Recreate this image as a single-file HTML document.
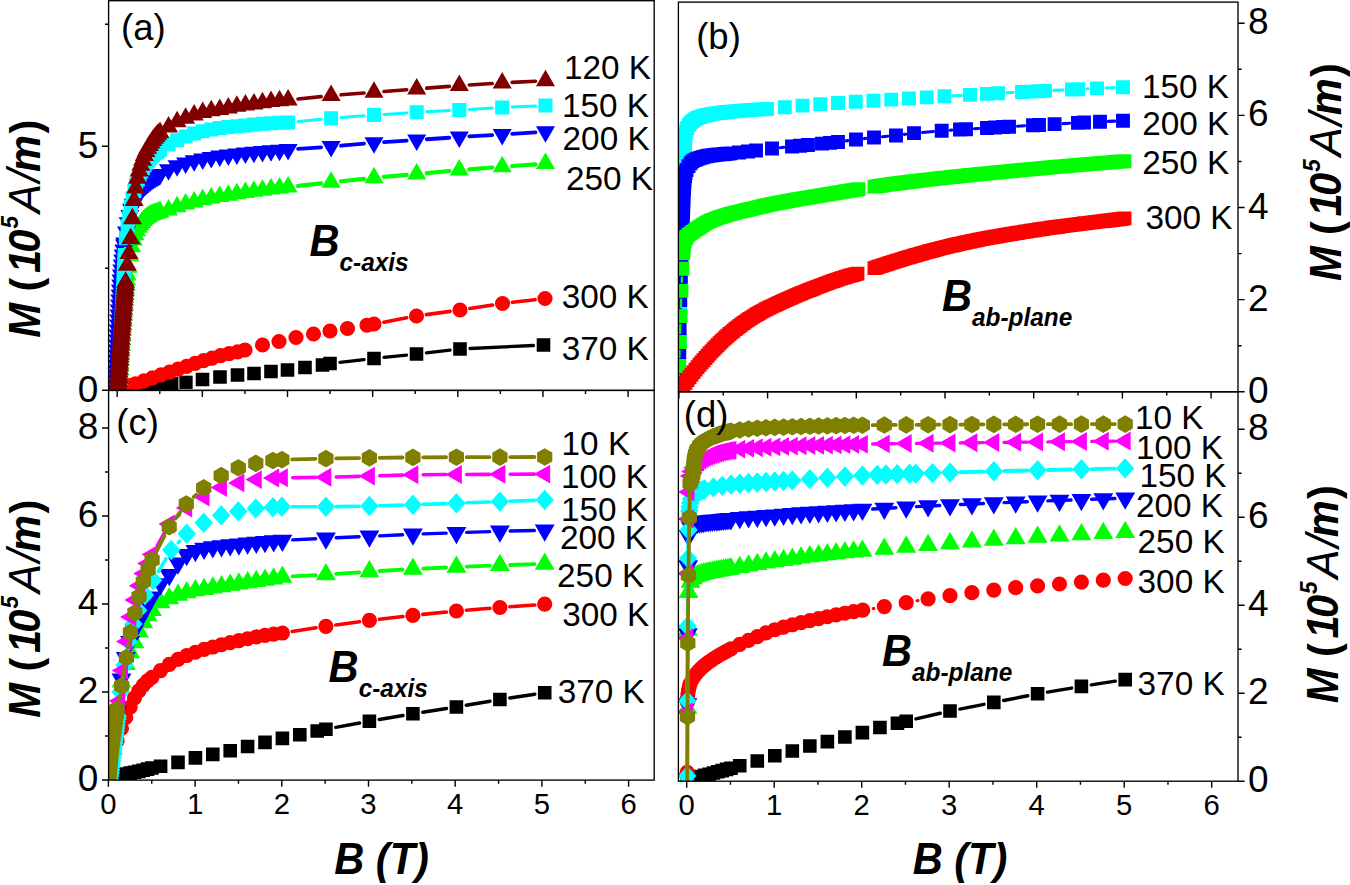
<!DOCTYPE html>
<html lang="en"><head><meta charset="utf-8"><title>M(B) curves</title>
<style>html,body{margin:0;padding:0;background:#fff}body{width:1350px;height:885px;overflow:hidden}svg{display:block}text{font-family:'Liberation Sans', Arial, Helvetica, sans-serif;fill:#000}</style>
</head><body>
<svg width="1350" height="885" viewBox="0 0 1350 885">
<rect width="1350" height="885" fill="#fff"/>
<defs>
<clipPath id="cpa"><rect x="108.6" y="0.7" width="545.6" height="389.7"/></clipPath>
<clipPath id="cpb"><rect x="678.4" y="2.1" width="559.6" height="389.7"/></clipPath>
<clipPath id="cpc"><rect x="108.6" y="390.4" width="545.6" height="389.7"/></clipPath>
<clipPath id="cpd"><rect x="678.4" y="391.8" width="559.6" height="389.4"/></clipPath>
</defs>
<g clip-path="url(#cpa)">
<path d="M339.94 362.37L364.06 359.63M383.94 357.45L406.56 355.05M426.43 352.86L450.07 350.14M469.99 348.52L533.51 345.48" fill="none" stroke="#000000" stroke-width="3.3" stroke-linecap="round"/>
<path d="M131.2 384.56h13.6v13.6h-13.6zM135.46 383.27h13.6v13.6h-13.6zM139.72 382.08h13.6v13.6h-13.6zM143.98 381.02h13.6v13.6h-13.6zM148.24 380.04h13.6v13.6h-13.6zM152.5 379.13h13.6v13.6h-13.6zM156.76 378.29h13.6v13.6h-13.6zM161.02 377.55h13.6v13.6h-13.6zM165.28 376.9h13.6v13.6h-13.6zM179.2 375.2h13.6v13.6h-13.6zM195.7 372.7h13.6v13.6h-13.6zM213.2 370.2h13.6v13.6h-13.6zM230.7 368.2h13.6v13.6h-13.6zM247.2 366.7h13.6v13.6h-13.6zM264.2 364.7h13.6v13.6h-13.6zM280.7 363.2h13.6v13.6h-13.6zM298.2 360.7h13.6v13.6h-13.6zM315.7 358.2h13.6v13.6h-13.6zM323.2 356.7h13.6v13.6h-13.6zM367.2 351.7h13.6v13.6h-13.6zM409.7 347.2h13.6v13.6h-13.6zM453.2 342.2h13.6v13.6h-13.6zM536.7 338.2h13.6v13.6h-13.6z" fill="#000000"/>
<rect x="178.9" y="375.2" width="14.2" height="14.2" fill="#000" stroke="#fff" stroke-width="0.9"/>
<path d="M383.83 322.15L406.67 317.85M426.41 314.63L450.09 311.37M469.89 308.49L492.61 305.01M512.43 302.33L535.07 299.67" fill="none" stroke="#ff0000" stroke-width="3.6" stroke-linecap="round"/>
<path d="M119.4 387.09a7.6 7.6 0 1 0 15.2 0a7.6 7.6 0 1 0 -15.2 0zM123.6 385.42a7.6 7.6 0 1 0 15.2 0a7.6 7.6 0 1 0 -15.2 0zM127.9 383.84a7.6 7.6 0 1 0 15.2 0a7.6 7.6 0 1 0 -15.2 0zM136.41 380.87a7.6 7.6 0 1 0 15.2 0a7.6 7.6 0 1 0 -15.2 0zM144.93 377.93a7.6 7.6 0 1 0 15.2 0a7.6 7.6 0 1 0 -15.2 0zM153.45 374.97a7.6 7.6 0 1 0 15.2 0a7.6 7.6 0 1 0 -15.2 0zM161.96 372.03a7.6 7.6 0 1 0 15.2 0a7.6 7.6 0 1 0 -15.2 0zM170.47 369.14a7.6 7.6 0 1 0 15.2 0a7.6 7.6 0 1 0 -15.2 0zM178.99 366.31a7.6 7.6 0 1 0 15.2 0a7.6 7.6 0 1 0 -15.2 0zM187.51 363.46a7.6 7.6 0 1 0 15.2 0a7.6 7.6 0 1 0 -15.2 0zM196.02 360.66a7.6 7.6 0 1 0 15.2 0a7.6 7.6 0 1 0 -15.2 0zM204.53 358.03a7.6 7.6 0 1 0 15.2 0a7.6 7.6 0 1 0 -15.2 0zM213.05 355.7a7.6 7.6 0 1 0 15.2 0a7.6 7.6 0 1 0 -15.2 0zM221.57 353.7a7.6 7.6 0 1 0 15.2 0a7.6 7.6 0 1 0 -15.2 0zM230.08 351.78a7.6 7.6 0 1 0 15.2 0a7.6 7.6 0 1 0 -15.2 0zM237.4 350a7.6 7.6 0 1 0 15.2 0a7.6 7.6 0 1 0 -15.2 0zM254.9 345a7.6 7.6 0 1 0 15.2 0a7.6 7.6 0 1 0 -15.2 0zM271.4 341.5a7.6 7.6 0 1 0 15.2 0a7.6 7.6 0 1 0 -15.2 0zM288.4 337.5a7.6 7.6 0 1 0 15.2 0a7.6 7.6 0 1 0 -15.2 0zM305.9 334a7.6 7.6 0 1 0 15.2 0a7.6 7.6 0 1 0 -15.2 0zM322.4 331a7.6 7.6 0 1 0 15.2 0a7.6 7.6 0 1 0 -15.2 0zM339.9 328.5a7.6 7.6 0 1 0 15.2 0a7.6 7.6 0 1 0 -15.2 0zM359.4 325.24a7.6 7.6 0 1 0 15.2 0a7.6 7.6 0 1 0 -15.2 0zM366.4 324a7.6 7.6 0 1 0 15.2 0a7.6 7.6 0 1 0 -15.2 0zM408.9 316a7.6 7.6 0 1 0 15.2 0a7.6 7.6 0 1 0 -15.2 0zM452.4 310a7.6 7.6 0 1 0 15.2 0a7.6 7.6 0 1 0 -15.2 0zM494.9 303.5a7.6 7.6 0 1 0 15.2 0a7.6 7.6 0 1 0 -15.2 0zM537.4 298.5a7.6 7.6 0 1 0 15.2 0a7.6 7.6 0 1 0 -15.2 0z" fill="#ff0000"/>
<path d="M298.04 185.95L321.16 183.4M341.05 181.26L364.05 178.84M383.96 176.94L406.74 174.96M426.66 173.17L449.34 171.03M469.27 169.31L492.23 167.49M512.17 165.99L535.53 164.31" fill="none" stroke="#00ff00" stroke-width="4.2" stroke-linecap="round"/>
<path d="M118.71 379L128.24 395.5L109.18 395.5zM118.99 374L128.51 390.5L109.46 390.5zM119.27 369L128.8 385.5L109.75 385.5zM119.57 364L129.09 380.5L110.04 380.5zM119.87 359L129.39 375.5L110.34 375.5zM120.18 354L129.7 370.5L110.65 370.5zM120.49 349L130.02 365.5L110.96 365.5zM120.81 344L130.34 360.5L111.28 360.5zM121.14 339L130.66 355.5L111.61 355.5zM121.47 334L131 350.5L111.94 350.5zM121.81 329L131.34 345.5L112.28 345.5zM122.15 324L131.68 340.5L112.63 340.5zM122.5 319L132.03 335.5L112.97 335.5zM122.85 314L132.38 330.5L113.32 330.5zM123.2 309L132.73 325.5L113.67 325.5zM123.56 304L133.09 320.5L114.03 320.5zM123.93 299L133.45 315.5L114.4 315.5zM124.31 294L133.84 310.5L114.79 310.5zM124.72 289L134.24 305.5L115.19 305.5zM125.14 284L134.67 300.5L115.62 300.5zM125.6 279L135.13 295.5L116.07 295.5zM126.09 274L135.62 290.5L116.56 290.5zM126.62 269L136.15 285.5L117.1 285.5zM127.2 264L136.73 280.5L117.67 280.5zM128.2 256.17L137.73 272.67L118.67 272.67zM129.9 244.72L139.43 261.22L120.37 261.22zM131.6 235.77L141.13 252.27L122.07 252.27zM133.3 229.04L142.83 245.54L123.77 245.54zM135 223.85L144.53 240.35L125.47 240.35zM136.7 219.66L146.23 236.16L127.17 236.16zM138.4 216.31L147.93 232.81L128.87 232.81zM140.1 213.63L149.63 230.13L130.57 230.13zM141.8 211.38L151.33 227.88L132.27 227.88zM143.5 209.47L153.03 225.97L133.97 225.97zM145.2 207.86L154.73 224.36L135.67 224.36zM146.9 206.48L156.43 222.98L137.37 222.98zM148.6 205.31L158.13 221.81L139.07 221.81zM150.3 204.34L159.83 220.84L140.77 220.84zM152 203.53L161.53 220.03L142.47 220.03zM153.7 202.83L163.23 219.33L144.17 219.33zM155.4 202.2L164.93 218.7L145.87 218.7zM157.1 201.63L166.63 218.13L147.57 218.13zM158.8 201.13L168.33 217.63L149.27 217.63zM160 200.8L169.53 217.3L150.47 217.3zM168.54 199.07L178.07 215.57L159.01 215.57zM177.08 195.84L186.61 212.34L167.55 212.34zM185.62 193.12L195.15 209.62L176.09 209.62zM194.16 191.01L203.69 207.51L184.63 207.51zM202.7 188.72L212.23 205.22L193.17 205.22zM211.24 187.11L220.77 203.61L201.71 203.61zM219.78 185.52L229.31 202.02L210.25 202.02zM228.32 184.21L237.85 200.71L218.79 200.71zM236.86 182.72L246.39 199.22L227.33 199.22zM245.4 181.61L254.93 198.11L235.87 198.11zM253.94 180.31L263.47 196.81L244.41 196.81zM262.48 179.22L272.01 195.72L252.95 195.72zM271.02 178.11L280.55 194.61L261.49 194.61zM279.56 177.12L289.09 193.62L270.03 193.62zM288.1 176.05L297.63 192.55L278.57 192.55zM331.1 171.3L340.63 187.8L321.57 187.8zM374 166.8L383.53 183.3L364.47 183.3zM416.7 163.1L426.23 179.6L407.17 179.6zM459.3 159.1L468.83 175.6L449.77 175.6zM502.2 155.7L511.73 172.2L492.67 172.2zM545.5 152.6L555.03 169.1L535.97 169.1z" fill="#00ff00"/>
<path d="M298.08 148.91L321.12 147.3M341.06 145.72L364.04 143.68M383.98 142.12L406.72 140.58M426.68 139.24L449.32 137.76M469.28 136.47L492.22 135.03M512.18 133.8L535.52 132.4" fill="none" stroke="#0000ff" stroke-width="3.8" stroke-linecap="round"/>
<path d="M116.23 401L106.71 384.5L125.76 384.5zM116.33 396L106.81 379.5L125.86 379.5zM116.45 391L106.92 374.5L125.97 374.5zM116.58 386L107.05 369.5L126.1 369.5zM116.72 381L107.19 364.5L126.25 364.5zM116.88 376L107.35 359.5L126.4 359.5zM117.05 371L107.52 354.5L126.57 354.5zM117.23 366L107.7 349.5L126.76 349.5zM117.42 361L107.9 344.5L126.95 344.5zM117.63 356L108.1 339.5L127.15 339.5zM117.84 351L108.32 334.5L127.37 334.5zM118.06 346L108.54 329.5L127.59 329.5zM118.29 341L108.77 324.5L127.82 324.5zM118.53 336L109.01 319.5L128.06 319.5zM118.78 331L109.25 314.5L128.3 314.5zM119.03 326L109.5 309.5L128.55 309.5zM119.28 321L109.75 304.5L128.81 304.5zM119.54 316L110.01 299.5L129.06 299.5zM119.8 311L110.27 294.5L129.33 294.5zM120.07 306L110.55 289.5L129.6 289.5zM120.37 301L110.84 284.5L129.89 284.5zM120.68 296L111.16 279.5L130.21 279.5zM121.03 291L111.5 274.5L130.55 274.5zM121.4 286L111.87 269.5L130.92 269.5zM121.8 281L112.27 264.5L131.32 264.5zM122.23 276L112.7 259.5L131.75 259.5zM122.69 271L113.17 254.5L132.22 254.5zM123.23 266L113.7 249.5L132.75 249.5zM123.83 261L114.31 244.5L133.36 244.5zM124.5 256L114.98 239.5L134.03 239.5zM124.8 253.9L115.27 237.4L134.33 237.4zM126.5 242.95L116.97 226.45L136.03 226.45zM128.2 233.85L118.67 217.35L137.73 217.35zM129.9 226.4L120.37 209.9L139.43 209.9zM131.6 220.26L122.07 203.76L141.13 203.76zM133.3 215.21L123.77 198.71L142.83 198.71zM135 211L125.47 194.5L144.53 194.5zM136.7 207.57L127.17 191.07L146.23 191.07zM138.4 204.71L128.87 188.21L147.93 188.21zM140.1 202.21L130.57 185.71L149.63 185.71zM141.8 199.99L132.27 183.49L151.33 183.49zM143.5 198.03L133.97 181.53L153.03 181.53zM145.2 196.26L135.67 179.76L154.73 179.76zM146.9 194.64L137.37 178.14L156.43 178.14zM148.6 193.15L139.07 176.65L158.13 176.65zM150.3 191.76L140.77 175.26L159.83 175.26zM152 190.49L142.47 173.99L161.53 173.99zM153.7 189.33L144.17 172.83L163.23 172.83zM155.4 188.23L145.87 171.73L164.93 171.73zM157.1 187.19L147.57 170.69L166.63 170.69zM158.8 186.19L149.27 169.69L168.33 169.69zM160 185.51L150.47 169.01L169.53 169.01zM168.54 180.8L159.01 164.3L178.07 164.3zM177.08 176.86L167.55 160.36L186.61 160.36zM185.62 173.96L176.09 157.46L195.15 157.46zM194.16 171.7L184.63 155.2L203.69 155.2zM202.7 169.93L193.17 153.43L212.23 153.43zM211.24 168.44L201.71 151.94L220.77 151.94zM219.78 167.11L210.25 150.61L229.31 150.61zM228.32 165.96L218.79 149.46L237.85 149.46zM236.86 164.94L227.33 148.44L246.39 148.44zM245.4 164L235.87 147.5L254.93 147.5zM253.94 163.14L244.41 146.64L263.47 146.64zM262.48 162.42L252.95 145.92L272.01 145.92zM271.02 161.8L261.49 145.3L280.55 145.3zM279.56 161.2L270.03 144.7L289.09 144.7zM288.1 160.61L278.57 144.11L297.63 144.11zM331.1 157.6L321.57 141.1L340.63 141.1zM374 153.8L364.47 137.3L383.53 137.3zM416.7 150.9L407.17 134.4L426.23 134.4zM459.3 148.1L449.77 131.6L468.83 131.6zM502.2 145.4L492.67 128.9L511.73 128.9zM545.5 142.8L535.97 126.3L555.03 126.3z" fill="#0000ff"/>
<path d="M124.86 253.98L125.24 248.25M298.05 121.43L321.15 119.17M341.07 117.48L364.03 115.82M383.98 114.42L406.72 112.88M426.69 111.68L449.31 110.52M469.28 109.42L492.22 108.08M512.19 107.02L535.51 105.88" fill="none" stroke="#00ffff" stroke-width="3" stroke-linecap="round"/>
<path d="M111.09 383h14v14h-14zM111.32 378h14v14h-14zM111.56 373h14v14h-14zM111.79 368h14v14h-14zM112.03 363h14v14h-14zM112.27 358h14v14h-14zM112.5 353h14v14h-14zM112.75 348h14v14h-14zM112.99 343h14v14h-14zM113.23 338h14v14h-14zM113.48 333h14v14h-14zM113.72 328h14v14h-14zM113.97 323h14v14h-14zM114.22 318h14v14h-14zM114.47 313h14v14h-14zM114.73 308h14v14h-14zM114.98 303h14v14h-14zM115.23 298h14v14h-14zM115.49 293h14v14h-14zM115.74 288h14v14h-14zM116 283h14v14h-14zM116.25 278h14v14h-14zM116.48 273h14v14h-14zM116.7 268h14v14h-14zM116.92 263h14v14h-14zM117.15 258h14v14h-14zM117.4 253h14v14h-14zM117.67 248h14v14h-14zM117.2 256.96h14v14h-14zM118.9 231.27h14v14h-14zM120.6 218.76h14v14h-14zM122.3 209.03h14v14h-14zM124 199.85h14v14h-14zM125.7 191.27h14v14h-14zM127.4 183.88h14v14h-14zM129.1 177.66h14v14h-14zM130.8 172.6h14v14h-14zM132.5 168.34h14v14h-14zM134.2 164.61h14v14h-14zM135.9 161.29h14v14h-14zM137.6 158.34h14v14h-14zM139.3 155.71h14v14h-14zM141 153.38h14v14h-14zM142.7 151.33h14v14h-14zM144.4 149.56h14v14h-14zM146.1 148.01h14v14h-14zM147.8 146.61h14v14h-14zM149.5 145.32h14v14h-14zM151.2 144.1h14v14h-14zM153 142.86h14v14h-14zM161.54 137.62h14v14h-14zM170.08 133.3h14v14h-14zM178.62 129.56h14v14h-14zM187.16 126.54h14v14h-14zM195.7 124.19h14v14h-14zM204.24 122.4h14v14h-14zM212.78 121.05h14v14h-14zM221.32 120.03h14v14h-14zM229.86 119.26h14v14h-14zM238.4 118.42h14v14h-14zM246.94 117.54h14v14h-14zM255.48 116.85h14v14h-14zM264.02 116.28h14v14h-14zM272.56 115.84h14v14h-14zM281.1 115.41h14v14h-14zM324.1 111.2h14v14h-14zM367 108.1h14v14h-14zM409.7 105.2h14v14h-14zM452.3 103h14v14h-14zM495.2 100.5h14v14h-14zM538.5 98.4h14v14h-14z" fill="#00ffff"/>
<path d="M298.05 99.01L321.15 96.63M341.07 94.83L364.03 93.07M383.97 91.51L406.73 89.69M426.67 88.13L449.33 86.37M469.28 84.97L492.22 83.53M512.19 82.39L535.51 81.21" fill="none" stroke="#800000" stroke-width="3.6" stroke-linecap="round"/>
<path d="M118.19 379L127.72 395.5L108.67 395.5zM118.33 376L127.86 392.5L108.81 392.5zM118.48 373L128.01 389.5L108.96 389.5zM118.63 370L128.16 386.5L109.11 386.5zM118.79 367L128.32 383.5L109.26 383.5zM118.95 364L128.48 380.5L109.43 380.5zM119.12 361L128.64 377.5L109.59 377.5zM119.29 358L128.81 374.5L109.76 374.5zM119.46 355L128.99 371.5L109.94 371.5zM119.64 352L129.17 368.5L110.12 368.5zM119.82 349L129.35 365.5L110.3 365.5zM120.01 346L129.54 362.5L110.48 362.5zM120.2 343L129.73 359.5L110.68 359.5zM120.4 340L129.92 356.5L110.87 356.5zM120.59 337L130.12 353.5L111.07 353.5zM120.79 334L130.32 350.5L111.27 350.5zM121 331L130.52 347.5L111.47 347.5zM121.21 328L130.73 344.5L111.68 344.5zM121.42 325L130.94 341.5L111.89 341.5zM121.63 322L131.16 338.5L112.1 338.5zM121.85 319L131.37 335.5L112.32 335.5zM122.07 316L131.59 332.5L112.54 332.5zM122.29 313L131.81 329.5L112.76 329.5zM122.51 310L132.04 326.5L112.98 326.5zM122.74 307L132.26 323.5L113.21 323.5zM122.97 304L132.49 320.5L113.44 320.5zM123.2 301L132.72 317.5L113.67 317.5zM123.43 298L132.96 314.5L113.9 314.5zM123.66 295L133.19 311.5L114.14 311.5zM123.9 292L133.43 308.5L114.37 308.5zM124.14 289L133.66 305.5L114.61 305.5zM124.38 286L133.9 302.5L114.85 302.5zM124.62 283L134.14 299.5L115.09 299.5zM124.86 280L134.39 296.5L115.33 296.5zM125.1 277L134.63 293.5L115.58 293.5zM125.35 274L134.88 290.5L115.83 290.5zM125.6 271.16L135.13 287.66L116.07 287.66zM127.3 254.33L136.83 270.83L117.77 270.83zM129 242.45L138.53 258.95L119.47 258.95zM130.7 227.78L140.23 244.28L121.17 244.28zM132.4 207.7L141.93 224.2L122.87 224.2zM134.1 189.5L143.63 206L124.57 206zM135.8 177.02L145.33 193.52L126.27 193.52zM137.5 167.36L147.03 183.86L127.97 183.86zM139.2 160.12L148.73 176.62L129.67 176.62zM140.9 154.32L150.43 170.82L131.37 170.82zM142.6 149.19L152.13 165.69L133.07 165.69zM144.3 144.56L153.83 161.06L134.77 161.06zM146 140.56L155.53 157.06L136.47 157.06zM147.7 137.2L157.23 153.7L138.17 153.7zM149.4 134.42L158.93 150.92L139.87 150.92zM151.1 131.94L160.63 148.44L141.57 148.44zM152.8 129.61L162.33 146.11L143.27 146.11zM154.5 127.36L164.03 143.86L144.97 143.86zM156.2 125.26L165.73 141.76L146.67 141.76zM157.9 123.37L167.43 139.87L148.37 139.87zM160 121.4L169.53 137.9L150.47 137.9zM168.54 116.06L178.07 132.56L159.01 132.56zM177.08 110.86L186.61 127.36L167.55 127.36zM185.62 107.23L195.15 123.73L176.09 123.73zM194.16 104.01L203.69 120.51L184.63 120.51zM202.7 101.62L212.23 118.12L193.17 118.12zM211.24 99.71L220.77 116.21L201.71 116.21zM219.78 98.52L229.31 115.02L210.25 115.02zM228.32 96.92L237.85 113.42L218.79 113.42zM236.86 95.32L246.39 111.82L227.33 111.82zM245.4 94.01L254.93 110.51L235.87 110.51zM253.94 92.91L263.47 109.41L244.41 109.41zM262.48 91.82L272.01 108.32L252.95 108.32zM271.02 90.61L280.55 107.11L261.49 107.11zM279.56 89.81L289.09 106.31L270.03 106.31zM288.1 89.04L297.63 105.54L278.57 105.54zM331.1 84.6L340.63 101.1L321.57 101.1zM374 81.3L383.53 97.8L364.47 97.8zM416.7 77.9L426.23 94.4L407.17 94.4zM459.3 74.6L468.83 91.1L449.77 91.1zM502.2 71.9L511.73 88.4L492.67 88.4zM545.5 69.7L555.03 86.2L535.97 86.2z" fill="#800000"/>
</g>
<g clip-path="url(#cpb)">
<path d="M679.33 363.1L679.53 348.9M679.83 331.1L680.1 316.9M680.48 299.1L680.81 284.9M681.25 267.1L681.62 252.9M682.12 235.1L682.77 212.9M683.31 195.1L684 172.9M953.35 95.81L961.11 95.36M1006.89 92.82L1013.11 92.49M1053.89 90.42L1063.11 89.96M1086.89 88.83L1088.11 88.77M1105.89 87.96L1114.11 87.6" fill="none" stroke="#00ffff" stroke-width="3.1" stroke-linecap="round"/>
<path d="M672.25 365.05h13.9v13.9h-13.9zM672.71 333.05h13.9v13.9h-13.9zM673.32 301.05h13.9v13.9h-13.9zM674.06 269.05h13.9v13.9h-13.9zM674.91 237.05h13.9v13.9h-13.9zM676.08 197.05h13.9v13.9h-13.9zM677.32 157.05h13.9v13.9h-13.9zM677.42 154.05h13.9v13.9h-13.9zM677.51 151.05h13.9v13.9h-13.9zM677.61 148.05h13.9v13.9h-13.9zM677.7 145.05h13.9v13.9h-13.9zM677.81 142.05h13.9v13.9h-13.9zM677.93 139.05h13.9v13.9h-13.9zM678.08 136.05h13.9v13.9h-13.9zM678.25 133.05h13.9v13.9h-13.9zM678.47 130.05h13.9v13.9h-13.9zM678.79 127.05h13.9v13.9h-13.9zM679.25 124.05h13.9v13.9h-13.9zM680.23 121.05h13.9v13.9h-13.9zM680.05 121.47h13.9v13.9h-13.9zM682.05 117.79h13.9v13.9h-13.9zM684.05 115.47h13.9v13.9h-13.9zM686.05 113.75h13.9v13.9h-13.9zM688.05 112.4h13.9v13.9h-13.9zM690.05 111.3h13.9v13.9h-13.9zM692.05 110.41h13.9v13.9h-13.9zM694.05 109.73h13.9v13.9h-13.9zM696.05 109.14h13.9v13.9h-13.9zM698.05 108.61h13.9v13.9h-13.9zM700.05 108.14h13.9v13.9h-13.9zM702.05 107.71h13.9v13.9h-13.9zM704.05 107.33h13.9v13.9h-13.9zM706.05 106.97h13.9v13.9h-13.9zM708.05 106.65h13.9v13.9h-13.9zM710.05 106.35h13.9v13.9h-13.9zM712.05 106.07h13.9v13.9h-13.9zM714.05 105.81h13.9v13.9h-13.9zM716.05 105.56h13.9v13.9h-13.9zM718.05 105.32h13.9v13.9h-13.9zM720.05 105.1h13.9v13.9h-13.9zM722.05 104.89h13.9v13.9h-13.9zM724.05 104.69h13.9v13.9h-13.9zM726.05 104.5h13.9v13.9h-13.9zM728.05 104.32h13.9v13.9h-13.9zM730.05 104.14h13.9v13.9h-13.9zM732.05 103.97h13.9v13.9h-13.9zM734.05 103.8h13.9v13.9h-13.9zM736.05 103.63h13.9v13.9h-13.9zM738.05 103.47h13.9v13.9h-13.9zM740.05 103.32h13.9v13.9h-13.9zM742.05 103.18h13.9v13.9h-13.9zM744.05 103.05h13.9v13.9h-13.9zM746.05 102.92h13.9v13.9h-13.9zM748.05 102.8h13.9v13.9h-13.9zM750.05 102.68h13.9v13.9h-13.9zM752.05 102.57h13.9v13.9h-13.9zM754.05 102.45h13.9v13.9h-13.9zM756.05 102.33h13.9v13.9h-13.9zM758.05 102.2h13.9v13.9h-13.9zM760.05 102.07h13.9v13.9h-13.9zM777.85 100.25h13.9v13.9h-13.9zM795.59 98.68h13.9v13.9h-13.9zM813.33 97.27h13.9v13.9h-13.9zM831.07 96.01h13.9v13.9h-13.9zM848.81 94.84h13.9v13.9h-13.9zM866.55 93.73h13.9v13.9h-13.9zM884.29 92.65h13.9v13.9h-13.9zM902.03 91.54h13.9v13.9h-13.9zM919.77 90.44h13.9v13.9h-13.9zM937.51 89.37h13.9v13.9h-13.9zM963.05 87.89h13.9v13.9h-13.9zM980.05 86.94h13.9v13.9h-13.9zM991.05 86.34h13.9v13.9h-13.9zM1015.05 85.08h13.9v13.9h-13.9zM1023.05 84.66h13.9v13.9h-13.9zM1031.05 84.25h13.9v13.9h-13.9zM1038.05 83.9h13.9v13.9h-13.9zM1065.05 82.58h13.9v13.9h-13.9zM1071.05 82.29h13.9v13.9h-13.9zM1090.05 81.41h13.9v13.9h-13.9zM1116.05 80.25h13.9v13.9h-13.9z" fill="#00ffff"/>
<path d="M679.11 369.7L679.19 360.3M679.39 343.7L679.48 337.3M679.79 320.7L680.06 308.3M680.46 291.7L680.55 288.3M681.02 271.7L681.28 263.3M780.26 147.67L783.74 147.33M846.22 140.86L847.78 140.64M864.25 138.57L865.75 138.4M882.26 136.7L887.74 136.19M904.23 134.38L905.77 134.19M922.27 132.44L933.43 131.5M949.98 130.24L951.72 130.12M974.29 128.71L978.71 128.45M1017.29 126.22L1024.71 125.78M1062.89 123.66L1069.71 123.3M1108.29 121.38L1114.71 121.08" fill="none" stroke="#0000ff" stroke-width="3.1" stroke-linecap="round"/>
<path d="M672.09 371.05h13.9v13.9h-13.9zM672.31 345.05h13.9v13.9h-13.9zM672.66 322.05h13.9v13.9h-13.9zM673.29 293.05h13.9v13.9h-13.9zM673.82 273.05h13.9v13.9h-13.9zM674.58 248.05h13.9v13.9h-13.9zM675.16 231.05h13.9v13.9h-13.9zM675.55 220.05h13.9v13.9h-13.9zM675.66 217.05h13.9v13.9h-13.9zM675.77 214.05h13.9v13.9h-13.9zM675.88 211.05h13.9v13.9h-13.9zM675.99 208.05h13.9v13.9h-13.9zM676.1 205.05h13.9v13.9h-13.9zM676.21 202.05h13.9v13.9h-13.9zM676.33 199.05h13.9v13.9h-13.9zM676.44 196.05h13.9v13.9h-13.9zM676.56 193.05h13.9v13.9h-13.9zM676.67 190.05h13.9v13.9h-13.9zM676.79 187.05h13.9v13.9h-13.9zM676.92 184.05h13.9v13.9h-13.9zM677.08 181.05h13.9v13.9h-13.9zM677.26 178.05h13.9v13.9h-13.9zM677.48 175.05h13.9v13.9h-13.9zM677.75 172.05h13.9v13.9h-13.9zM678.11 169.05h13.9v13.9h-13.9zM678.63 166.05h13.9v13.9h-13.9zM679.52 163.05h13.9v13.9h-13.9zM679.55 162.97h13.9v13.9h-13.9zM681.55 159.22h13.9v13.9h-13.9zM683.55 156.42h13.9v13.9h-13.9zM685.55 154.42h13.9v13.9h-13.9zM687.55 153.17h13.9v13.9h-13.9zM689.55 152.28h13.9v13.9h-13.9zM691.55 151.55h13.9v13.9h-13.9zM693.55 150.89h13.9v13.9h-13.9zM695.55 150.27h13.9v13.9h-13.9zM697.55 149.71h13.9v13.9h-13.9zM699.55 149.24h13.9v13.9h-13.9zM701.55 148.87h13.9v13.9h-13.9zM703.55 148.56h13.9v13.9h-13.9zM705.55 148.29h13.9v13.9h-13.9zM707.55 148.04h13.9v13.9h-13.9zM709.55 147.82h13.9v13.9h-13.9zM711.55 147.61h13.9v13.9h-13.9zM713.55 147.42h13.9v13.9h-13.9zM715.55 147.23h13.9v13.9h-13.9zM717.55 147.04h13.9v13.9h-13.9zM719.55 146.84h13.9v13.9h-13.9zM721.55 146.64h13.9v13.9h-13.9zM723.55 146.42h13.9v13.9h-13.9zM732.05 145.51h13.9v13.9h-13.9zM741.05 144.53h13.9v13.9h-13.9zM749.05 143.53h13.9v13.9h-13.9zM765.05 141.54h13.9v13.9h-13.9zM785.05 139.56h13.9v13.9h-13.9zM793.05 138.82h13.9v13.9h-13.9zM801.05 138.05h13.9v13.9h-13.9zM815.05 136.72h13.9v13.9h-13.9zM823.05 135.93h13.9v13.9h-13.9zM831.05 135.05h13.9v13.9h-13.9zM849.05 132.55h13.9v13.9h-13.9zM867.05 130.52h13.9v13.9h-13.9zM889.05 128.48h13.9v13.9h-13.9zM907.05 126.19h13.9v13.9h-13.9zM934.75 123.85h13.9v13.9h-13.9zM953.05 122.61h13.9v13.9h-13.9zM959.05 122.24h13.9v13.9h-13.9zM980.05 121.02h13.9v13.9h-13.9zM988.05 120.56h13.9v13.9h-13.9zM996.05 120.1h13.9v13.9h-13.9zM1002.05 119.75h13.9v13.9h-13.9zM1026.05 118.35h13.9v13.9h-13.9zM1032.05 118.01h13.9v13.9h-13.9zM1047.65 117.15h13.9v13.9h-13.9zM1071.05 115.91h13.9v13.9h-13.9zM1077.05 115.6h13.9v13.9h-13.9zM1093.05 114.82h13.9v13.9h-13.9zM1116.05 113.75h13.9v13.9h-13.9z" fill="#0000ff"/>
<path d="M679.09 379L679.12 375M679.39 357L679.51 351M679.97 333L680.21 325M680.83 307.01L681.11 299.69M681.84 281.71L682.01 277.79" fill="none" stroke="#00ff00" stroke-width="2.4" stroke-linecap="round"/>
<path d="M672.06 381.05h13.9v13.9h-13.9zM672.26 359.05h13.9v13.9h-13.9zM672.75 335.05h13.9v13.9h-13.9zM673.54 309.05h13.9v13.9h-13.9zM674.5 283.75h13.9v13.9h-13.9zM675.44 261.85h13.9v13.9h-13.9zM676.31 246.05h13.9v13.9h-13.9zM676.56 243.05h13.9v13.9h-13.9zM676.84 240.05h13.9v13.9h-13.9zM677.2 237.05h13.9v13.9h-13.9zM677.79 234.05h13.9v13.9h-13.9zM678.98 231.05h13.9v13.9h-13.9zM679.55 230.05h13.9v13.9h-13.9zM681.55 227.96h13.9v13.9h-13.9zM683.55 226.43h13.9v13.9h-13.9zM685.55 224.93h13.9v13.9h-13.9zM687.55 223.55h13.9v13.9h-13.9zM689.55 222.22h13.9v13.9h-13.9zM691.55 220.85h13.9v13.9h-13.9zM693.55 219.48h13.9v13.9h-13.9zM695.55 218.14h13.9v13.9h-13.9zM697.55 216.88h13.9v13.9h-13.9zM699.55 215.72h13.9v13.9h-13.9zM701.55 214.69h13.9v13.9h-13.9zM703.55 213.79h13.9v13.9h-13.9zM705.55 212.94h13.9v13.9h-13.9zM707.55 212.15h13.9v13.9h-13.9zM709.55 211.41h13.9v13.9h-13.9zM711.55 210.7h13.9v13.9h-13.9zM713.55 210.03h13.9v13.9h-13.9zM715.55 209.38h13.9v13.9h-13.9zM717.55 208.76h13.9v13.9h-13.9zM719.55 208.16h13.9v13.9h-13.9zM721.55 207.57h13.9v13.9h-13.9zM723.55 206.99h13.9v13.9h-13.9zM725.55 206.43h13.9v13.9h-13.9zM727.55 205.91h13.9v13.9h-13.9zM729.55 205.42h13.9v13.9h-13.9zM731.55 204.94h13.9v13.9h-13.9zM733.55 204.47h13.9v13.9h-13.9zM735.55 203.99h13.9v13.9h-13.9zM737.55 203.51h13.9v13.9h-13.9zM739.55 203.04h13.9v13.9h-13.9zM741.55 202.56h13.9v13.9h-13.9zM743.55 202.1h13.9v13.9h-13.9zM745.55 201.63h13.9v13.9h-13.9zM747.55 201.17h13.9v13.9h-13.9zM749.55 200.7h13.9v13.9h-13.9zM751.55 200.23h13.9v13.9h-13.9zM753.55 199.76h13.9v13.9h-13.9zM755.55 199.29h13.9v13.9h-13.9zM757.55 198.82h13.9v13.9h-13.9zM759.55 198.37h13.9v13.9h-13.9zM761.55 197.92h13.9v13.9h-13.9zM763.55 197.5h13.9v13.9h-13.9zM765.55 197.09h13.9v13.9h-13.9zM767.55 196.69h13.9v13.9h-13.9zM769.55 196.29h13.9v13.9h-13.9zM771.55 195.9h13.9v13.9h-13.9zM773.55 195.52h13.9v13.9h-13.9zM775.55 195.14h13.9v13.9h-13.9zM777.55 194.77h13.9v13.9h-13.9zM779.55 194.4h13.9v13.9h-13.9zM781.55 194.03h13.9v13.9h-13.9zM783.55 193.67h13.9v13.9h-13.9zM785.55 193.31h13.9v13.9h-13.9zM787.55 192.96h13.9v13.9h-13.9zM789.55 192.61h13.9v13.9h-13.9zM791.55 192.26h13.9v13.9h-13.9zM793.55 191.91h13.9v13.9h-13.9zM795.55 191.57h13.9v13.9h-13.9zM797.55 191.23h13.9v13.9h-13.9zM799.55 190.89h13.9v13.9h-13.9zM801.55 190.56h13.9v13.9h-13.9zM803.55 190.22h13.9v13.9h-13.9zM805.55 189.89h13.9v13.9h-13.9zM807.55 189.56h13.9v13.9h-13.9zM809.55 189.23h13.9v13.9h-13.9zM811.55 188.9h13.9v13.9h-13.9zM813.55 188.57h13.9v13.9h-13.9zM815.55 188.24h13.9v13.9h-13.9zM817.55 187.92h13.9v13.9h-13.9zM819.55 187.59h13.9v13.9h-13.9zM821.55 187.26h13.9v13.9h-13.9zM823.55 186.93h13.9v13.9h-13.9zM825.55 186.6h13.9v13.9h-13.9zM827.55 186.27h13.9v13.9h-13.9zM829.55 185.94h13.9v13.9h-13.9zM831.55 185.6h13.9v13.9h-13.9zM833.55 185.27h13.9v13.9h-13.9zM835.55 184.94h13.9v13.9h-13.9zM837.55 184.6h13.9v13.9h-13.9zM839.55 184.27h13.9v13.9h-13.9zM841.55 183.94h13.9v13.9h-13.9zM843.55 183.6h13.9v13.9h-13.9zM845.55 183.27h13.9v13.9h-13.9zM847.55 182.94h13.9v13.9h-13.9zM849.55 182.61h13.9v13.9h-13.9zM851.55 182.28h13.9v13.9h-13.9zM867.55 179.72h13.9v13.9h-13.9zM869.55 179.41h13.9v13.9h-13.9zM871.55 179.11h13.9v13.9h-13.9zM873.55 178.81h13.9v13.9h-13.9zM875.55 178.51h13.9v13.9h-13.9zM877.55 178.22h13.9v13.9h-13.9zM879.55 177.93h13.9v13.9h-13.9zM881.55 177.64h13.9v13.9h-13.9zM883.55 177.36h13.9v13.9h-13.9zM885.55 177.08h13.9v13.9h-13.9zM887.55 176.81h13.9v13.9h-13.9zM889.55 176.55h13.9v13.9h-13.9zM891.55 176.29h13.9v13.9h-13.9zM893.55 176.03h13.9v13.9h-13.9zM895.55 175.77h13.9v13.9h-13.9zM897.55 175.52h13.9v13.9h-13.9zM899.55 175.27h13.9v13.9h-13.9zM901.55 175.02h13.9v13.9h-13.9zM903.55 174.77h13.9v13.9h-13.9zM905.55 174.52h13.9v13.9h-13.9zM907.55 174.28h13.9v13.9h-13.9zM909.55 174.04h13.9v13.9h-13.9zM911.55 173.8h13.9v13.9h-13.9zM913.55 173.56h13.9v13.9h-13.9zM915.55 173.33h13.9v13.9h-13.9zM917.55 173.09h13.9v13.9h-13.9zM919.55 172.86h13.9v13.9h-13.9zM921.55 172.63h13.9v13.9h-13.9zM923.55 172.4h13.9v13.9h-13.9zM925.55 172.17h13.9v13.9h-13.9zM927.55 171.95h13.9v13.9h-13.9zM929.55 171.72h13.9v13.9h-13.9zM931.55 171.5h13.9v13.9h-13.9zM933.55 171.28h13.9v13.9h-13.9zM935.55 171.06h13.9v13.9h-13.9zM937.55 170.84h13.9v13.9h-13.9zM939.55 170.63h13.9v13.9h-13.9zM941.55 170.41h13.9v13.9h-13.9zM943.55 170.2h13.9v13.9h-13.9zM945.55 169.99h13.9v13.9h-13.9zM947.55 169.77h13.9v13.9h-13.9zM949.55 169.56h13.9v13.9h-13.9zM951.55 169.36h13.9v13.9h-13.9zM953.55 169.15h13.9v13.9h-13.9zM955.55 168.94h13.9v13.9h-13.9zM957.55 168.73h13.9v13.9h-13.9zM959.55 168.53h13.9v13.9h-13.9zM961.55 168.33h13.9v13.9h-13.9zM963.55 168.12h13.9v13.9h-13.9zM965.55 167.92h13.9v13.9h-13.9zM967.55 167.72h13.9v13.9h-13.9zM969.55 167.52h13.9v13.9h-13.9zM971.55 167.32h13.9v13.9h-13.9zM973.55 167.12h13.9v13.9h-13.9zM975.55 166.92h13.9v13.9h-13.9zM977.55 166.72h13.9v13.9h-13.9zM979.55 166.53h13.9v13.9h-13.9zM981.55 166.33h13.9v13.9h-13.9zM983.55 166.13h13.9v13.9h-13.9zM985.55 165.94h13.9v13.9h-13.9zM987.55 165.74h13.9v13.9h-13.9zM989.55 165.55h13.9v13.9h-13.9zM991.55 165.36h13.9v13.9h-13.9zM993.55 165.16h13.9v13.9h-13.9zM995.55 164.97h13.9v13.9h-13.9zM997.55 164.78h13.9v13.9h-13.9zM999.55 164.58h13.9v13.9h-13.9zM1001.55 164.39h13.9v13.9h-13.9zM1003.55 164.2h13.9v13.9h-13.9zM1005.55 164.01h13.9v13.9h-13.9zM1007.55 163.81h13.9v13.9h-13.9zM1009.55 163.62h13.9v13.9h-13.9zM1011.55 163.43h13.9v13.9h-13.9zM1013.55 163.24h13.9v13.9h-13.9zM1015.55 163.05h13.9v13.9h-13.9zM1017.55 162.87h13.9v13.9h-13.9zM1019.55 162.68h13.9v13.9h-13.9zM1021.55 162.49h13.9v13.9h-13.9zM1023.55 162.3h13.9v13.9h-13.9zM1025.55 162.12h13.9v13.9h-13.9zM1027.55 161.93h13.9v13.9h-13.9zM1029.55 161.75h13.9v13.9h-13.9zM1031.55 161.56h13.9v13.9h-13.9zM1033.55 161.38h13.9v13.9h-13.9zM1035.55 161.2h13.9v13.9h-13.9zM1037.55 161.01h13.9v13.9h-13.9zM1039.55 160.83h13.9v13.9h-13.9zM1041.55 160.65h13.9v13.9h-13.9zM1043.55 160.47h13.9v13.9h-13.9zM1045.55 160.29h13.9v13.9h-13.9zM1047.55 160.11h13.9v13.9h-13.9zM1049.55 159.93h13.9v13.9h-13.9zM1051.55 159.76h13.9v13.9h-13.9zM1053.55 159.58h13.9v13.9h-13.9zM1055.55 159.4h13.9v13.9h-13.9zM1057.55 159.23h13.9v13.9h-13.9zM1059.55 159.05h13.9v13.9h-13.9zM1061.55 158.88h13.9v13.9h-13.9zM1063.55 158.71h13.9v13.9h-13.9zM1065.55 158.53h13.9v13.9h-13.9zM1067.55 158.36h13.9v13.9h-13.9zM1069.55 158.19h13.9v13.9h-13.9zM1071.55 158.02h13.9v13.9h-13.9zM1073.55 157.85h13.9v13.9h-13.9zM1075.55 157.68h13.9v13.9h-13.9zM1077.55 157.51h13.9v13.9h-13.9zM1079.55 157.35h13.9v13.9h-13.9zM1081.55 157.18h13.9v13.9h-13.9zM1083.55 157.01h13.9v13.9h-13.9zM1085.55 156.85h13.9v13.9h-13.9zM1087.55 156.68h13.9v13.9h-13.9zM1089.55 156.52h13.9v13.9h-13.9zM1091.55 156.36h13.9v13.9h-13.9zM1093.55 156.2h13.9v13.9h-13.9zM1095.55 156.03h13.9v13.9h-13.9zM1097.55 155.87h13.9v13.9h-13.9zM1099.55 155.71h13.9v13.9h-13.9zM1101.55 155.55h13.9v13.9h-13.9zM1103.55 155.4h13.9v13.9h-13.9zM1105.55 155.24h13.9v13.9h-13.9zM1107.55 155.08h13.9v13.9h-13.9zM1109.55 154.93h13.9v13.9h-13.9zM1111.55 154.77h13.9v13.9h-13.9zM1113.55 154.62h13.9v13.9h-13.9zM1115.55 154.46h13.9v13.9h-13.9zM1117.55 154.35h13.9v13.9h-13.9z" fill="#00ff00"/>
<path d="M672.55 384.77h13.9v13.9h-13.9zM674.55 381.71h13.9v13.9h-13.9zM676.55 378.75h13.9v13.9h-13.9zM678.55 375.86h13.9v13.9h-13.9zM680.55 373.06h13.9v13.9h-13.9zM682.55 370.34h13.9v13.9h-13.9zM684.55 367.7h13.9v13.9h-13.9zM686.55 365.13h13.9v13.9h-13.9zM688.55 362.63h13.9v13.9h-13.9zM690.55 360.21h13.9v13.9h-13.9zM692.55 357.83h13.9v13.9h-13.9zM694.55 355.51h13.9v13.9h-13.9zM696.55 353.23h13.9v13.9h-13.9zM698.55 351h13.9v13.9h-13.9zM700.55 348.79h13.9v13.9h-13.9zM702.55 346.62h13.9v13.9h-13.9zM704.55 344.47h13.9v13.9h-13.9zM706.55 342.35h13.9v13.9h-13.9zM708.55 340.27h13.9v13.9h-13.9zM710.55 338.23h13.9v13.9h-13.9zM712.55 336.24h13.9v13.9h-13.9zM714.55 334.31h13.9v13.9h-13.9zM716.55 332.42h13.9v13.9h-13.9zM718.55 330.6h13.9v13.9h-13.9zM720.55 328.82h13.9v13.9h-13.9zM722.55 327.08h13.9v13.9h-13.9zM724.55 325.38h13.9v13.9h-13.9zM726.55 323.73h13.9v13.9h-13.9zM728.55 322.11h13.9v13.9h-13.9zM730.55 320.53h13.9v13.9h-13.9zM732.55 319h13.9v13.9h-13.9zM734.55 317.51h13.9v13.9h-13.9zM736.55 316.06h13.9v13.9h-13.9zM738.55 314.66h13.9v13.9h-13.9zM740.55 313.29h13.9v13.9h-13.9zM742.55 311.95h13.9v13.9h-13.9zM744.55 310.66h13.9v13.9h-13.9zM746.55 309.4h13.9v13.9h-13.9zM748.55 308.17h13.9v13.9h-13.9zM750.55 306.98h13.9v13.9h-13.9zM752.55 305.83h13.9v13.9h-13.9zM754.55 304.72h13.9v13.9h-13.9zM756.55 303.64h13.9v13.9h-13.9zM758.55 302.6h13.9v13.9h-13.9zM760.55 301.59h13.9v13.9h-13.9zM762.55 300.6h13.9v13.9h-13.9zM764.55 299.64h13.9v13.9h-13.9zM766.55 298.68h13.9v13.9h-13.9zM768.55 297.74h13.9v13.9h-13.9zM770.55 296.81h13.9v13.9h-13.9zM772.55 295.89h13.9v13.9h-13.9zM774.55 294.97h13.9v13.9h-13.9zM776.55 294.06h13.9v13.9h-13.9zM778.55 293.16h13.9v13.9h-13.9zM780.55 292.27h13.9v13.9h-13.9zM782.55 291.39h13.9v13.9h-13.9zM784.55 290.52h13.9v13.9h-13.9zM786.55 289.66h13.9v13.9h-13.9zM788.55 288.8h13.9v13.9h-13.9zM790.55 287.96h13.9v13.9h-13.9zM792.55 287.12h13.9v13.9h-13.9zM794.55 286.29h13.9v13.9h-13.9zM796.55 285.47h13.9v13.9h-13.9zM798.55 284.66h13.9v13.9h-13.9zM800.55 283.85h13.9v13.9h-13.9zM802.55 283.06h13.9v13.9h-13.9zM804.55 282.27h13.9v13.9h-13.9zM806.55 281.49h13.9v13.9h-13.9zM808.55 280.71h13.9v13.9h-13.9zM810.55 279.94h13.9v13.9h-13.9zM812.55 279.17h13.9v13.9h-13.9zM814.55 278.41h13.9v13.9h-13.9zM816.55 277.66h13.9v13.9h-13.9zM818.55 276.91h13.9v13.9h-13.9zM820.55 276.17h13.9v13.9h-13.9zM822.55 275.44h13.9v13.9h-13.9zM824.55 274.72h13.9v13.9h-13.9zM826.55 274.02h13.9v13.9h-13.9zM828.55 273.32h13.9v13.9h-13.9zM830.55 272.63h13.9v13.9h-13.9zM832.55 271.96h13.9v13.9h-13.9zM834.55 271.3h13.9v13.9h-13.9zM836.55 270.65h13.9v13.9h-13.9zM838.55 270.02h13.9v13.9h-13.9zM840.55 269.41h13.9v13.9h-13.9zM842.55 268.84h13.9v13.9h-13.9zM844.55 268.29h13.9v13.9h-13.9zM846.55 267.74h13.9v13.9h-13.9zM848.55 267.21h13.9v13.9h-13.9zM850.55 266.66h13.9v13.9h-13.9zM867.55 261.2h13.9v13.9h-13.9zM869.55 260.51h13.9v13.9h-13.9zM871.55 259.85h13.9v13.9h-13.9zM873.55 259.19h13.9v13.9h-13.9zM875.55 258.54h13.9v13.9h-13.9zM877.55 257.89h13.9v13.9h-13.9zM879.55 257.24h13.9v13.9h-13.9zM881.55 256.6h13.9v13.9h-13.9zM883.55 255.95h13.9v13.9h-13.9zM885.55 255.31h13.9v13.9h-13.9zM887.55 254.67h13.9v13.9h-13.9zM889.55 254.03h13.9v13.9h-13.9zM891.55 253.4h13.9v13.9h-13.9zM893.55 252.78h13.9v13.9h-13.9zM895.55 252.15h13.9v13.9h-13.9zM897.55 251.54h13.9v13.9h-13.9zM899.55 250.93h13.9v13.9h-13.9zM901.55 250.33h13.9v13.9h-13.9zM903.55 249.73h13.9v13.9h-13.9zM905.55 249.14h13.9v13.9h-13.9zM907.55 248.56h13.9v13.9h-13.9zM909.55 247.98h13.9v13.9h-13.9zM911.55 247.41h13.9v13.9h-13.9zM913.55 246.84h13.9v13.9h-13.9zM915.55 246.27h13.9v13.9h-13.9zM917.55 245.71h13.9v13.9h-13.9zM919.55 245.15h13.9v13.9h-13.9zM921.55 244.6h13.9v13.9h-13.9zM923.55 244.05h13.9v13.9h-13.9zM925.55 243.51h13.9v13.9h-13.9zM927.55 242.98h13.9v13.9h-13.9zM929.55 242.45h13.9v13.9h-13.9zM931.55 241.93h13.9v13.9h-13.9zM933.55 241.41h13.9v13.9h-13.9zM935.55 240.91h13.9v13.9h-13.9zM937.55 240.41h13.9v13.9h-13.9zM939.55 239.92h13.9v13.9h-13.9zM941.55 239.43h13.9v13.9h-13.9zM943.55 238.96h13.9v13.9h-13.9zM945.55 238.49h13.9v13.9h-13.9zM947.55 238.02h13.9v13.9h-13.9zM949.55 237.56h13.9v13.9h-13.9zM951.55 237.11h13.9v13.9h-13.9zM953.55 236.66h13.9v13.9h-13.9zM955.55 236.21h13.9v13.9h-13.9zM957.55 235.77h13.9v13.9h-13.9zM959.55 235.34h13.9v13.9h-13.9zM961.55 234.92h13.9v13.9h-13.9zM963.55 234.49h13.9v13.9h-13.9zM965.55 234.08h13.9v13.9h-13.9zM967.55 233.67h13.9v13.9h-13.9zM969.55 233.26h13.9v13.9h-13.9zM971.55 232.86h13.9v13.9h-13.9zM973.55 232.46h13.9v13.9h-13.9zM975.55 232.08h13.9v13.9h-13.9zM977.55 231.69h13.9v13.9h-13.9zM979.55 231.31h13.9v13.9h-13.9zM981.55 230.94h13.9v13.9h-13.9zM983.55 230.57h13.9v13.9h-13.9zM985.55 230.21h13.9v13.9h-13.9zM987.55 229.85h13.9v13.9h-13.9zM989.55 229.5h13.9v13.9h-13.9zM991.55 229.15h13.9v13.9h-13.9zM993.55 228.8h13.9v13.9h-13.9zM995.55 228.46h13.9v13.9h-13.9zM997.55 228.12h13.9v13.9h-13.9zM999.55 227.78h13.9v13.9h-13.9zM1001.55 227.45h13.9v13.9h-13.9zM1003.55 227.11h13.9v13.9h-13.9zM1005.55 226.78h13.9v13.9h-13.9zM1007.55 226.45h13.9v13.9h-13.9zM1009.55 226.12h13.9v13.9h-13.9zM1011.55 225.79h13.9v13.9h-13.9zM1013.55 225.46h13.9v13.9h-13.9zM1015.55 225.14h13.9v13.9h-13.9zM1017.55 224.81h13.9v13.9h-13.9zM1019.55 224.49h13.9v13.9h-13.9zM1021.55 224.17h13.9v13.9h-13.9zM1023.55 223.86h13.9v13.9h-13.9zM1025.55 223.54h13.9v13.9h-13.9zM1027.55 223.23h13.9v13.9h-13.9zM1029.55 222.92h13.9v13.9h-13.9zM1031.55 222.62h13.9v13.9h-13.9zM1033.55 222.32h13.9v13.9h-13.9zM1035.55 222.02h13.9v13.9h-13.9zM1037.55 221.72h13.9v13.9h-13.9zM1039.55 221.43h13.9v13.9h-13.9zM1041.55 221.14h13.9v13.9h-13.9zM1043.55 220.85h13.9v13.9h-13.9zM1045.55 220.57h13.9v13.9h-13.9zM1047.55 220.29h13.9v13.9h-13.9zM1049.55 220.01h13.9v13.9h-13.9zM1051.55 219.74h13.9v13.9h-13.9zM1053.55 219.47h13.9v13.9h-13.9zM1055.55 219.2h13.9v13.9h-13.9zM1057.55 218.94h13.9v13.9h-13.9zM1059.55 218.67h13.9v13.9h-13.9zM1061.55 218.41h13.9v13.9h-13.9zM1063.55 218.15h13.9v13.9h-13.9zM1065.55 217.9h13.9v13.9h-13.9zM1067.55 217.64h13.9v13.9h-13.9zM1069.55 217.39h13.9v13.9h-13.9zM1071.55 217.13h13.9v13.9h-13.9zM1073.55 216.88h13.9v13.9h-13.9zM1075.55 216.63h13.9v13.9h-13.9zM1077.55 216.37h13.9v13.9h-13.9zM1079.55 216.13h13.9v13.9h-13.9zM1081.55 215.88h13.9v13.9h-13.9zM1083.55 215.64h13.9v13.9h-13.9zM1085.55 215.4h13.9v13.9h-13.9zM1087.55 215.17h13.9v13.9h-13.9zM1089.55 214.93h13.9v13.9h-13.9zM1091.55 214.7h13.9v13.9h-13.9zM1093.55 214.47h13.9v13.9h-13.9zM1095.55 214.24h13.9v13.9h-13.9zM1097.55 214h13.9v13.9h-13.9zM1099.55 213.77h13.9v13.9h-13.9zM1101.55 213.53h13.9v13.9h-13.9zM1103.55 213.29h13.9v13.9h-13.9zM1105.55 213.04h13.9v13.9h-13.9zM1107.55 212.8h13.9v13.9h-13.9zM1109.55 212.54h13.9v13.9h-13.9zM1111.55 212.28h13.9v13.9h-13.9zM1113.55 212.02h13.9v13.9h-13.9zM1115.55 211.74h13.9v13.9h-13.9zM1117.55 211.46h13.9v13.9h-13.9z" fill="#ff0000"/>
</g>
<g clip-path="url(#cpc)">
<path d="M335.74 727.39L359.56 723.01M379.26 719.52L403.04 715.48M422.78 712.26L446.52 708.54M466.25 705.3L490.05 701.2M509.79 698L534.82 694.2" fill="none" stroke="#000000" stroke-width="3.4" stroke-linecap="round"/>
<path d="M110.3 769.4h13.6v13.6h-13.6zM114.65 768.23h13.6v13.6h-13.6zM119 767.2h13.6v13.6h-13.6zM123.35 766.34h13.6v13.6h-13.6zM127.7 765.5h13.6v13.6h-13.6zM132.05 764.54h13.6v13.6h-13.6zM136.4 763.5h13.6v13.6h-13.6zM140.75 762.33h13.6v13.6h-13.6zM145.1 761.2h13.6v13.6h-13.6zM153.8 759.5h13.6v13.6h-13.6zM171.2 755.6h13.6v13.6h-13.6zM188.6 751.1h13.6v13.6h-13.6zM206 747.6h13.6v13.6h-13.6zM223.4 743.9h13.6v13.6h-13.6zM240.8 739.7h13.6v13.6h-13.6zM258.2 735.6h13.6v13.6h-13.6zM275.6 731.6h13.6v13.6h-13.6zM293 728h13.6v13.6h-13.6zM310.4 724.2h13.6v13.6h-13.6zM319.1 722.4h13.6v13.6h-13.6zM362.6 714.4h13.6v13.6h-13.6zM406.1 707h13.6v13.6h-13.6zM449.6 700.2h13.6v13.6h-13.6zM493.1 692.7h13.6v13.6h-13.6zM537.9 685.9h13.6v13.6h-13.6z" fill="#000000"/>
<path d="M110.23 771.17L110.92 767.46M292.28 631.49L316.02 627.83M335.81 624.93L359.49 621.67M379.34 619.18L402.96 616.52M422.85 614.39L446.45 612.01M466.37 610.2L489.93 608.3M509.87 606.77L534.73 604.93" fill="none" stroke="#ff0000" stroke-width="3.6" stroke-linecap="round"/>
<path d="M100.8 781a7.6 7.6 0 1 0 15.2 0a7.6 7.6 0 1 0 -15.2 0zM105.15 757.63a7.6 7.6 0 1 0 15.2 0a7.6 7.6 0 1 0 -15.2 0zM109.5 740.81a7.6 7.6 0 1 0 15.2 0a7.6 7.6 0 1 0 -15.2 0zM113.85 728.39a7.6 7.6 0 1 0 15.2 0a7.6 7.6 0 1 0 -15.2 0zM118.2 717.42a7.6 7.6 0 1 0 15.2 0a7.6 7.6 0 1 0 -15.2 0zM122.55 707.04a7.6 7.6 0 1 0 15.2 0a7.6 7.6 0 1 0 -15.2 0zM126.9 697.79a7.6 7.6 0 1 0 15.2 0a7.6 7.6 0 1 0 -15.2 0zM131.25 690.78a7.6 7.6 0 1 0 15.2 0a7.6 7.6 0 1 0 -15.2 0zM135.6 685.32a7.6 7.6 0 1 0 15.2 0a7.6 7.6 0 1 0 -15.2 0zM139.95 680.95a7.6 7.6 0 1 0 15.2 0a7.6 7.6 0 1 0 -15.2 0zM144.3 677.31a7.6 7.6 0 1 0 15.2 0a7.6 7.6 0 1 0 -15.2 0zM153 670.6a7.6 7.6 0 1 0 15.2 0a7.6 7.6 0 1 0 -15.2 0zM161.7 664.45a7.6 7.6 0 1 0 15.2 0a7.6 7.6 0 1 0 -15.2 0zM170.4 659.4a7.6 7.6 0 1 0 15.2 0a7.6 7.6 0 1 0 -15.2 0zM179.1 655.52a7.6 7.6 0 1 0 15.2 0a7.6 7.6 0 1 0 -15.2 0zM187.8 652.25a7.6 7.6 0 1 0 15.2 0a7.6 7.6 0 1 0 -15.2 0zM196.5 649.47a7.6 7.6 0 1 0 15.2 0a7.6 7.6 0 1 0 -15.2 0zM205.2 647.02a7.6 7.6 0 1 0 15.2 0a7.6 7.6 0 1 0 -15.2 0zM213.9 644.74a7.6 7.6 0 1 0 15.2 0a7.6 7.6 0 1 0 -15.2 0zM222.6 642.63a7.6 7.6 0 1 0 15.2 0a7.6 7.6 0 1 0 -15.2 0zM231.3 640.65a7.6 7.6 0 1 0 15.2 0a7.6 7.6 0 1 0 -15.2 0zM240 638.75a7.6 7.6 0 1 0 15.2 0a7.6 7.6 0 1 0 -15.2 0zM248.7 636.97a7.6 7.6 0 1 0 15.2 0a7.6 7.6 0 1 0 -15.2 0zM257.4 635.45a7.6 7.6 0 1 0 15.2 0a7.6 7.6 0 1 0 -15.2 0zM266.1 634.22a7.6 7.6 0 1 0 15.2 0a7.6 7.6 0 1 0 -15.2 0zM274.8 633.01a7.6 7.6 0 1 0 15.2 0a7.6 7.6 0 1 0 -15.2 0zM318.3 626.3a7.6 7.6 0 1 0 15.2 0a7.6 7.6 0 1 0 -15.2 0zM361.8 620.3a7.6 7.6 0 1 0 15.2 0a7.6 7.6 0 1 0 -15.2 0zM405.3 615.4a7.6 7.6 0 1 0 15.2 0a7.6 7.6 0 1 0 -15.2 0zM448.8 611a7.6 7.6 0 1 0 15.2 0a7.6 7.6 0 1 0 -15.2 0zM492.3 607.5a7.6 7.6 0 1 0 15.2 0a7.6 7.6 0 1 0 -15.2 0zM537.1 604.2a7.6 7.6 0 1 0 15.2 0a7.6 7.6 0 1 0 -15.2 0z" fill="#ff0000"/>
<path d="M109.75 770.79L111.4 758.35M114.04 737.92L115.81 724.02M118.49 703.6L120.06 691.97M292.68 576.44L315.62 575.17M336.18 573.89L359.12 572.31M379.68 571.01L402.62 569.69M423.19 568.6L446.11 567.5M466.69 566.6L489.61 565.7M510.19 564.98L534.41 564.22" fill="none" stroke="#00ff00" stroke-width="3.8" stroke-linecap="round"/>
<path d="M108.4 769.5L118.36 786.75L98.44 786.75zM112.75 736.64L122.71 753.89L102.79 753.89zM117.1 702.3L127.06 719.55L107.14 719.55zM121.45 670.27L131.41 687.52L111.49 687.52zM125.8 652.79L135.76 670.04L115.84 670.04zM130.15 640.91L140.11 658.16L120.19 658.16zM134.5 630.99L144.46 648.24L124.54 648.24zM138.85 620.36L148.81 637.61L128.89 637.61zM143.2 611.1L153.16 628.35L133.24 628.35zM147.55 603.88L157.51 621.13L137.59 621.13zM151.9 598.73L161.86 615.98L141.94 615.98zM160.6 590.88L170.56 608.13L150.64 608.13zM169.3 586.95L179.26 604.2L159.34 604.2zM178 583.4L187.96 600.65L168.04 600.65zM186.7 581.03L196.66 598.28L176.74 598.28zM195.4 579.05L205.36 596.3L185.44 596.3zM204.1 577.67L214.06 594.92L194.14 594.92zM212.8 576.26L222.76 593.51L202.84 593.51zM221.5 574.94L231.46 592.19L211.54 592.19zM230.2 573.62L240.16 590.87L220.24 590.87zM238.9 572.31L248.86 589.56L228.94 589.56zM247.6 570.99L257.56 588.24L237.64 588.24zM256.3 569.67L266.26 586.92L246.34 586.92zM265 568.46L274.96 585.71L255.04 585.71zM273.7 567.13L283.66 584.38L263.74 584.38zM282.4 565.51L292.36 582.76L272.44 582.76zM325.9 563.1L335.86 580.35L315.94 580.35zM369.4 560.1L379.36 577.35L359.44 577.35zM412.9 557.6L422.86 574.85L402.94 574.85zM456.4 555.5L466.36 572.75L446.44 572.75zM499.9 553.8L509.86 571.05L489.94 571.05zM544.7 552.4L554.66 569.65L534.75 569.65z" fill="#00ff00"/>
<path d="M109.72 770.78L111.43 757.42M114.02 736.99L115.83 722.43M118.45 702L120.1 689.45M123.49 669.14L123.76 667.83M292.69 539.88L315.61 538.72M336.19 537.75L359.11 536.75M379.69 535.83L402.61 534.77M423.19 533.92L446.11 533.08M466.69 532.37L489.61 531.63M510.2 531.05L534.41 530.45" fill="none" stroke="#0000ff" stroke-width="3.4" stroke-linecap="round"/>
<path d="M108.4 792.5L98.44 775.25L118.36 775.25zM112.75 758.71L102.79 741.46L122.71 741.46zM117.1 723.71L107.14 706.46L127.06 706.46zM121.45 690.74L111.49 673.49L131.41 673.49zM125.8 669.24L115.84 651.99L135.76 651.99zM130.15 653.26L120.19 636.01L140.11 636.01zM134.5 641.48L124.54 624.23L144.46 624.23zM138.85 632.48L128.89 615.23L148.81 615.23zM143.2 624.28L133.24 607.03L153.16 607.03zM147.55 616.34L137.59 599.09L157.51 599.09zM151.9 608.67L141.94 591.42L161.86 591.42zM160.6 595.52L150.64 578.27L170.56 578.27zM169.3 586.33L159.34 569.08L179.26 569.08zM178 574.82L168.04 557.57L187.96 557.57zM186.7 566.31L176.74 549.06L196.66 549.06zM195.4 562.16L185.44 544.91L205.36 544.91zM204.1 560.01L194.14 542.76L214.06 542.76zM212.8 558.48L202.84 541.23L222.76 541.23zM221.5 557.39L211.54 540.14L231.46 540.14zM230.2 556.56L220.24 539.31L240.16 539.31zM238.9 555.77L228.94 538.52L248.86 538.52zM247.6 554.86L237.64 537.61L257.56 537.61zM256.3 553.95L246.34 536.7L266.26 536.7zM265 553.17L255.04 535.92L274.96 535.92zM273.7 552.49L263.74 535.24L283.66 535.24zM282.4 551.91L272.44 534.66L292.36 534.66zM325.9 549.7L315.94 532.45L335.86 532.45zM369.4 547.8L359.44 530.55L379.36 530.55zM412.9 545.8L402.94 528.55L422.86 528.55zM456.4 544.2L446.44 526.95L466.36 526.95zM499.9 542.8L489.94 525.55L509.86 525.55zM544.7 541.7L534.75 524.45L554.66 524.45z" fill="#0000ff"/>
<path d="M118.84 705.77L119.26 702.23M122.01 681.81L122.99 675.19M126.3 654.86L126.9 651.54M158.38 571.46L165.92 558.84M178.3 542.54L179.6 541.16M292.2 506.8L315.6 506.8M336.2 506.61L359.1 506.19M379.7 505.72L402.6 505.08M423.19 504.42L446.11 503.58M466.69 502.82L489.61 501.98M510.19 501.23L534.41 500.37" fill="none" stroke="#00ffff" stroke-width="3.6" stroke-linecap="round"/>
<path d="M110.04 768.8L119.24 779L110.04 789.2L100.84 779zM110.4 765.8L119.6 776L110.4 786.2L101.2 776zM110.76 762.8L119.96 773L110.76 783.2L101.56 773zM111.11 759.8L120.31 770L111.11 780.2L101.91 770zM111.47 756.8L120.67 767L111.47 777.2L102.27 767zM111.83 753.8L121.03 764L111.83 774.2L102.63 764zM112.19 750.8L121.39 761L112.19 771.2L102.99 761zM112.55 747.8L121.75 758L112.55 768.2L103.35 758zM112.91 744.8L122.11 755L112.91 765.2L103.71 755zM113.27 741.8L122.47 752L113.27 762.2L104.07 752zM113.63 738.8L122.83 749L113.63 759.2L104.43 749zM113.99 735.8L123.19 746L113.99 756.2L104.79 746zM114.35 732.8L123.55 743L114.35 753.2L105.15 743zM114.71 729.8L123.91 740L114.71 750.2L105.51 740zM115.07 726.8L124.27 737L115.07 747.2L105.87 737zM115.43 723.8L124.63 734L115.43 744.2L106.23 734zM115.79 720.8L124.99 731L115.79 741.2L106.59 731zM116.16 717.8L125.36 728L116.16 738.2L106.96 728zM116.52 714.8L125.72 725L116.52 735.2L107.32 725zM116.88 711.8L126.08 722L116.88 732.2L107.68 722zM117.24 708.8L126.44 719L117.24 729.2L108.04 719zM117.6 705.8L126.8 716L117.6 726.2L108.4 716zM120.5 681.8L129.7 692L120.5 702.2L111.3 692zM124.5 654.8L133.7 665L124.5 675.2L115.3 665zM128.7 631.2L137.9 641.4L128.7 651.6L119.5 641.4zM133.5 613.8L142.7 624L133.5 634.2L124.3 624zM138.2 600L147.4 610.2L138.2 620.4L129 610.2zM145 584.8L154.2 595L145 605.2L135.8 595zM153.1 570.1L162.3 580.3L153.1 590.5L143.9 580.3zM171.2 539.8L180.4 550L171.2 560.2L162 550zM186.7 523.5L195.9 533.7L186.7 543.9L177.5 533.7zM203.7 512.6L212.9 522.8L203.7 533L194.5 522.8zM221.2 505.2L230.4 515.4L221.2 525.6L212 515.4zM238.3 501.2L247.5 511.4L238.3 521.6L229.1 511.4zM255.8 498.3L265 508.5L255.8 518.7L246.6 508.5zM272.9 497.1L282.1 507.3L272.9 517.5L263.7 507.3zM281.9 496.6L291.1 506.8L281.9 517L272.7 506.8zM325.9 496.6L335.1 506.8L325.9 517L316.7 506.8zM369.4 495.8L378.6 506L369.4 516.2L360.2 506zM412.9 494.6L422.1 504.8L412.9 515L403.7 504.8zM456.4 493L465.6 503.2L456.4 513.4L447.2 503.2zM499.9 491.4L509.1 501.6L499.9 511.8L490.7 501.6zM544.7 489.8L553.9 500L544.7 510.2L535.5 500z" fill="#00ffff"/>
<path d="M114.48 730.16L117.82 711.14M120.61 690.75L121.59 680.75M124.07 660.31L125.33 651.59M128.51 631.24L129.19 627.16M157.47 545.48L164.33 533.02M176.88 517.03L179.12 514.97M292.7 477.68L315.6 477.42M336.2 477.02L359.1 476.38M379.7 475.79L402.6 475.11M423.2 474.73L446.1 474.57M466.7 474.45L489.6 474.35M510.2 474.25L534.41 474.15" fill="none" stroke="#ff00ff" stroke-width="3.6" stroke-linecap="round"/>
<path d="M101.8 740.3L118.15 730.86L118.15 749.74zM108.7 701L125.05 691.56L125.05 710.44zM111.7 670.5L128.05 661.06L128.05 679.94zM115.9 641.4L132.25 631.96L132.25 650.84zM120 617L136.35 607.56L136.35 626.44zM124.3 600L140.65 590.56L140.65 609.44zM128.8 585.8L145.15 576.36L145.15 595.24zM133.2 573.6L149.55 564.16L149.55 583.04zM137.2 563.4L153.55 553.96L153.55 572.84zM141.6 554.5L157.95 545.06L157.95 563.94zM158.4 524L174.75 514.56L174.75 533.44zM175.8 508L192.15 498.56L192.15 517.44zM193.2 497.1L209.55 487.66L209.55 506.54zM210.6 487.5L226.95 478.06L226.95 496.94zM228 482.9L244.35 473.46L244.35 492.34zM245.4 479.6L261.75 470.16L261.75 489.04zM262.8 478L279.15 468.56L279.15 487.44zM271.5 477.8L287.85 468.36L287.85 487.24zM315 477.3L331.35 467.86L331.35 486.74zM358.5 476.1L374.85 466.66L374.85 485.54zM402 474.8L418.35 465.36L418.35 484.24zM445.5 474.5L461.85 465.06L461.85 483.94zM489 474.3L505.35 464.86L505.35 483.74zM533.8 474.1L550.15 464.66L550.15 483.54z" fill="#ff00ff"/>
<path d="M119.06 698.89L119.62 696.01M123.32 675.75L124.68 667.75M128.02 647.43L128.78 642.67M156.82 550.84L164.48 535.96M175.38 518.56L180.12 512.24M193.84 496.98L196.16 494.82M292.2 459.37L315.6 458.83M336.2 458.43L359.1 458.07M379.7 457.78L402.6 457.52M423.2 457.35L446.1 457.25M466.7 457.18L489.6 457.12M510.2 457.08L534.41 457.02" fill="none" stroke="#808000" stroke-width="3.8" stroke-linecap="round"/>
<path d="M108.8 772.2L116.42 776.6L116.42 785.4L108.8 789.8L101.18 785.4L101.18 776.6zM109.04 768.2L116.66 772.6L116.66 781.4L109.04 785.8L101.42 781.4L101.42 772.6zM109.32 764.2L116.94 768.6L116.94 777.4L109.32 781.8L101.7 777.4L101.7 768.6zM109.62 760.2L117.25 764.6L117.25 773.4L109.62 777.8L102 773.4L102 764.6zM109.96 756.2L117.59 760.6L117.59 769.4L109.96 773.8L102.34 769.4L102.34 760.6zM110.33 752.2L117.95 756.6L117.95 765.4L110.33 769.8L102.71 765.4L102.71 756.6zM110.73 748.2L118.35 752.6L118.35 761.4L110.73 765.8L103.11 761.4L103.11 752.6zM111.15 744.2L118.78 748.6L118.78 757.4L111.15 761.8L103.53 757.4L103.53 748.6zM111.6 740.2L119.22 744.6L119.22 753.4L111.6 757.8L103.98 753.4L103.98 744.6zM112.07 736.2L119.7 740.6L119.7 749.4L112.07 753.8L104.45 749.4L104.45 740.6zM112.57 732.2L120.19 736.6L120.19 745.4L112.57 749.8L104.95 745.4L104.95 736.6zM113.08 728.2L120.7 732.6L120.7 741.4L113.08 745.8L105.46 741.4L105.46 732.6zM113.61 724.2L121.23 728.6L121.23 737.4L113.61 741.8L105.99 737.4L105.99 728.6zM114.16 720.2L121.78 724.6L121.78 733.4L114.16 737.8L106.54 733.4L106.54 724.6zM114.72 716.2L122.34 720.6L122.34 729.4L114.72 733.8L107.1 729.4L107.1 720.6zM115.29 712.2L122.91 716.6L122.91 725.4L115.29 729.8L107.67 725.4L107.67 716.6zM115.88 708.2L123.5 712.6L123.5 721.4L115.88 725.8L108.26 721.4L108.26 712.6zM116.47 704.2L124.09 708.6L124.09 717.4L116.47 721.8L108.85 717.4L108.85 708.6zM117.08 700.2L124.7 704.6L124.7 713.4L117.08 717.8L109.46 713.4L109.46 704.6zM121.6 677.1L129.22 681.5L129.22 690.3L121.6 694.7L113.98 690.3L113.98 681.5zM126.4 648.8L134.02 653.2L134.02 662L126.4 666.4L118.78 662L118.78 653.2zM130.4 623.7L138.02 628.1L138.02 636.9L130.4 641.3L122.78 636.9L122.78 628.1zM134.9 604.1L142.52 608.5L142.52 617.3L134.9 621.7L127.28 617.3L127.28 608.5zM139 587.8L146.62 592.2L146.62 601L139 605.4L131.38 601L131.38 592.2zM143.3 572.9L150.92 577.3L150.92 586.1L143.3 590.5L135.68 586.1L135.68 577.3zM148.1 560.7L155.72 565.1L155.72 573.9L148.1 578.3L140.48 573.9L140.48 565.1zM152.1 551.2L159.72 555.6L159.72 564.4L152.1 568.8L144.48 564.4L144.48 555.6zM169.2 518L176.82 522.4L176.82 531.2L169.2 535.6L161.58 531.2L161.58 522.4zM186.3 495.2L193.92 499.6L193.92 508.4L186.3 512.8L178.68 508.4L178.68 499.6zM203.7 479L211.32 483.4L211.32 492.2L203.7 496.6L196.08 492.2L196.08 483.4zM221.2 466.8L228.82 471.2L228.82 480L221.2 484.4L213.58 480L213.58 471.2zM238.3 459L245.92 463.4L245.92 472.2L238.3 476.6L230.68 472.2L230.68 463.4zM255.8 454.6L263.42 459L263.42 467.8L255.8 472.2L248.18 467.8L248.18 459zM272.9 451.7L280.52 456.1L280.52 464.9L272.9 469.3L265.28 464.9L265.28 456.1zM281.9 450.8L289.52 455.2L289.52 464L281.9 468.4L274.28 464L274.28 455.2zM325.9 449.8L333.52 454.2L333.52 463L325.9 467.4L318.28 463L318.28 454.2zM369.4 449.1L377.02 453.5L377.02 462.3L369.4 466.7L361.78 462.3L361.78 453.5zM412.9 448.6L420.52 453L420.52 461.8L412.9 466.2L405.28 461.8L405.28 453zM456.4 448.4L464.02 452.8L464.02 461.6L456.4 466L448.78 461.6L448.78 452.8zM499.9 448.3L507.52 452.7L507.52 461.5L499.9 465.9L492.28 461.5L492.28 452.7zM544.7 448.2L552.33 452.6L552.33 461.4L544.7 465.8L537.08 461.4L537.08 452.6z" fill="#808000"/>
</g>
<g clip-path="url(#cpd)">
<path d="M915.94 718.93L940.26 713.27M959.81 709.07L983.99 704.33M1003.61 700.47L1027.79 695.73M1047.46 692.13L1071.54 688.07M1091.28 684.87L1115.32 681.13" fill="none" stroke="#000000" stroke-width="3.4" stroke-linecap="round"/>
<path d="M684.78 772.39h13.6v13.6h-13.6zM689.16 771.1h13.6v13.6h-13.6zM693.54 769.84h13.6v13.6h-13.6zM697.92 768.6h13.6v13.6h-13.6zM702.3 767.39h13.6v13.6h-13.6zM706.68 766.2h13.6v13.6h-13.6zM711.06 765h13.6v13.6h-13.6zM715.44 763.8h13.6v13.6h-13.6zM719.82 762.6h13.6v13.6h-13.6zM724.2 761.4h13.6v13.6h-13.6zM732.96 759h13.6v13.6h-13.6zM750.48 754.2h13.6v13.6h-13.6zM768 749h13.6v13.6h-13.6zM785.52 744.2h13.6v13.6h-13.6zM803.04 739.2h13.6v13.6h-13.6zM820.56 734.8h13.6v13.6h-13.6zM838.08 730.2h13.6v13.6h-13.6zM855.6 725.8h13.6v13.6h-13.6zM873.12 720.7h13.6v13.6h-13.6zM890.64 716.5h13.6v13.6h-13.6zM899.4 714.4h13.6v13.6h-13.6zM943.2 704.2h13.6v13.6h-13.6zM987 695.6h13.6v13.6h-13.6zM1030.8 687h13.6v13.6h-13.6zM1074.6 679.6h13.6v13.6h-13.6zM1118.4 672.8h13.6v13.6h-13.6z" fill="#000000"/>
<path d="M873.2 608.5L874 608.4M917 600.8L918 600.6" fill="none" stroke="#ff0000" stroke-width="3" stroke-linecap="round"/>
<path d="M679.6 772.3a7.6 7.6 0 1 0 15.2 0a7.6 7.6 0 1 0 -15.2 0zM679.79 702a7.6 7.6 0 1 0 15.2 0a7.6 7.6 0 1 0 -15.2 0zM679.87 698a7.6 7.6 0 1 0 15.2 0a7.6 7.6 0 1 0 -15.2 0zM680.29 694a7.6 7.6 0 1 0 15.2 0a7.6 7.6 0 1 0 -15.2 0zM680.9 690a7.6 7.6 0 1 0 15.2 0a7.6 7.6 0 1 0 -15.2 0zM681.82 686a7.6 7.6 0 1 0 15.2 0a7.6 7.6 0 1 0 -15.2 0zM682.5 683.9a7.6 7.6 0 1 0 15.2 0a7.6 7.6 0 1 0 -15.2 0zM684.7 679.39a7.6 7.6 0 1 0 15.2 0a7.6 7.6 0 1 0 -15.2 0zM686.9 676a7.6 7.6 0 1 0 15.2 0a7.6 7.6 0 1 0 -15.2 0zM689.1 673.1a7.6 7.6 0 1 0 15.2 0a7.6 7.6 0 1 0 -15.2 0zM691.3 670.63a7.6 7.6 0 1 0 15.2 0a7.6 7.6 0 1 0 -15.2 0zM693.5 668.43a7.6 7.6 0 1 0 15.2 0a7.6 7.6 0 1 0 -15.2 0zM695.7 666.44a7.6 7.6 0 1 0 15.2 0a7.6 7.6 0 1 0 -15.2 0zM697.9 664.61a7.6 7.6 0 1 0 15.2 0a7.6 7.6 0 1 0 -15.2 0zM700.1 662.91a7.6 7.6 0 1 0 15.2 0a7.6 7.6 0 1 0 -15.2 0zM702.3 661.3a7.6 7.6 0 1 0 15.2 0a7.6 7.6 0 1 0 -15.2 0zM704.5 659.76a7.6 7.6 0 1 0 15.2 0a7.6 7.6 0 1 0 -15.2 0zM706.7 658.32a7.6 7.6 0 1 0 15.2 0a7.6 7.6 0 1 0 -15.2 0zM708.9 656.98a7.6 7.6 0 1 0 15.2 0a7.6 7.6 0 1 0 -15.2 0zM711.1 655.69a7.6 7.6 0 1 0 15.2 0a7.6 7.6 0 1 0 -15.2 0zM713.3 654.44a7.6 7.6 0 1 0 15.2 0a7.6 7.6 0 1 0 -15.2 0zM715.5 653.19a7.6 7.6 0 1 0 15.2 0a7.6 7.6 0 1 0 -15.2 0zM717.7 651.95a7.6 7.6 0 1 0 15.2 0a7.6 7.6 0 1 0 -15.2 0zM719.9 650.73a7.6 7.6 0 1 0 15.2 0a7.6 7.6 0 1 0 -15.2 0zM722.1 649.54a7.6 7.6 0 1 0 15.2 0a7.6 7.6 0 1 0 -15.2 0zM723.4 648.85a7.6 7.6 0 1 0 15.2 0a7.6 7.6 0 1 0 -15.2 0zM732.16 644.47a7.6 7.6 0 1 0 15.2 0a7.6 7.6 0 1 0 -15.2 0zM740.92 640.44a7.6 7.6 0 1 0 15.2 0a7.6 7.6 0 1 0 -15.2 0zM749.68 636.64a7.6 7.6 0 1 0 15.2 0a7.6 7.6 0 1 0 -15.2 0zM758.44 632.91a7.6 7.6 0 1 0 15.2 0a7.6 7.6 0 1 0 -15.2 0zM767.2 629.73a7.6 7.6 0 1 0 15.2 0a7.6 7.6 0 1 0 -15.2 0zM775.96 627.05a7.6 7.6 0 1 0 15.2 0a7.6 7.6 0 1 0 -15.2 0zM784.72 624.77a7.6 7.6 0 1 0 15.2 0a7.6 7.6 0 1 0 -15.2 0zM793.48 622.58a7.6 7.6 0 1 0 15.2 0a7.6 7.6 0 1 0 -15.2 0zM802.24 620.59a7.6 7.6 0 1 0 15.2 0a7.6 7.6 0 1 0 -15.2 0zM811 618.6a7.6 7.6 0 1 0 15.2 0a7.6 7.6 0 1 0 -15.2 0zM819.76 616.73a7.6 7.6 0 1 0 15.2 0a7.6 7.6 0 1 0 -15.2 0zM828.52 614.94a7.6 7.6 0 1 0 15.2 0a7.6 7.6 0 1 0 -15.2 0zM837.28 613.24a7.6 7.6 0 1 0 15.2 0a7.6 7.6 0 1 0 -15.2 0zM846.04 611.54a7.6 7.6 0 1 0 15.2 0a7.6 7.6 0 1 0 -15.2 0zM854.8 610.25a7.6 7.6 0 1 0 15.2 0a7.6 7.6 0 1 0 -15.2 0zM855.1 610.2a7.6 7.6 0 1 0 15.2 0a7.6 7.6 0 1 0 -15.2 0zM876.7 606.59a7.6 7.6 0 1 0 15.2 0a7.6 7.6 0 1 0 -15.2 0zM898.6 602.69a7.6 7.6 0 1 0 15.2 0a7.6 7.6 0 1 0 -15.2 0zM920.5 598.93a7.6 7.6 0 1 0 15.2 0a7.6 7.6 0 1 0 -15.2 0zM942.4 595.66a7.6 7.6 0 1 0 15.2 0a7.6 7.6 0 1 0 -15.2 0zM964.3 592.71a7.6 7.6 0 1 0 15.2 0a7.6 7.6 0 1 0 -15.2 0zM986.2 590.05a7.6 7.6 0 1 0 15.2 0a7.6 7.6 0 1 0 -15.2 0zM1008.1 587.71a7.6 7.6 0 1 0 15.2 0a7.6 7.6 0 1 0 -15.2 0zM1030 585.79a7.6 7.6 0 1 0 15.2 0a7.6 7.6 0 1 0 -15.2 0zM1051.9 584a7.6 7.6 0 1 0 15.2 0a7.6 7.6 0 1 0 -15.2 0zM1073.8 582.08a7.6 7.6 0 1 0 15.2 0a7.6 7.6 0 1 0 -15.2 0zM1095.7 580.2a7.6 7.6 0 1 0 15.2 0a7.6 7.6 0 1 0 -15.2 0zM1117.6 578.5a7.6 7.6 0 1 0 15.2 0a7.6 7.6 0 1 0 -15.2 0z" fill="#ff0000"/>
<path d="M687.2 767.5L697.16 784.75L677.24 784.75zM687.38 696.5L697.34 713.75L677.42 713.75zM687.88 618.5L697.83 635.75L677.92 635.75zM688.6 580.7L698.56 597.95L678.64 597.95zM690.5 570.5L700.46 587.75L680.54 587.75zM692.7 567.06L702.66 584.31L682.74 584.31zM694.9 565.25L704.86 582.5L684.94 582.5zM697.1 564.24L707.06 581.49L687.14 581.49zM699.3 563.51L709.26 580.76L689.34 580.76zM701.5 562.87L711.46 580.12L691.54 580.12zM703.7 562.28L713.66 579.53L693.74 579.53zM705.9 561.75L715.86 579L695.94 579zM708.1 561.26L718.06 578.51L698.14 578.51zM710.3 560.81L720.26 578.06L700.34 578.06zM712.5 560.39L722.46 577.64L702.54 577.64zM714.7 559.97L724.66 577.22L704.74 577.22zM716.9 559.56L726.86 576.81L706.94 576.81zM719.1 559.15L729.06 576.4L709.14 576.4zM721.3 558.75L731.26 576L711.34 576zM723.5 558.37L733.46 575.62L713.54 575.62zM725.7 558L735.66 575.25L715.74 575.25zM727.9 557.64L737.86 574.89L717.94 574.89zM730.1 557.28L740.06 574.53L720.14 574.53zM731 557.14L740.96 574.39L721.04 574.39zM739.76 555.72L749.72 572.97L729.8 572.97zM748.52 554.26L758.48 571.51L738.56 571.51zM757.28 552.79L767.24 570.04L747.32 570.04zM766.04 551.36L776 568.61L756.08 568.61zM774.8 549.99L784.76 567.24L764.84 567.24zM783.56 548.67L793.52 565.92L773.6 565.92zM792.32 547.38L802.28 564.63L782.36 564.63zM801.08 546.15L811.04 563.4L791.12 563.4zM809.84 545.02L819.8 562.27L799.88 562.27zM818.6 543.97L828.56 561.22L808.64 561.22zM827.36 542.97L837.32 560.22L817.4 560.22zM836.12 542.03L846.08 559.28L826.16 559.28zM844.88 541.12L854.84 558.37L834.92 558.37zM853.64 540.25L863.6 557.5L843.68 557.5zM862.4 539.4L872.36 556.65L852.44 556.65zM862.4 539.4L872.36 556.65L852.44 556.65zM884.3 537.39L894.26 554.64L874.34 554.64zM906.2 535.52L916.16 552.77L896.24 552.77zM928.1 533.74L938.06 550.99L918.14 550.99zM950 532L959.96 549.25L940.04 549.25zM971.9 530.27L981.86 547.52L961.94 547.52zM993.8 528.57L1003.76 545.82L983.84 545.82zM1015.7 526.96L1025.66 544.21L1005.74 544.21zM1037.6 525.5L1047.56 542.75L1027.64 542.75zM1059.5 524.18L1069.46 541.43L1049.54 541.43zM1081.4 522.94L1091.36 540.19L1071.44 540.19zM1103.3 521.81L1113.26 539.06L1093.34 539.06zM1125.2 520.8L1135.16 538.05L1115.24 538.05z" fill="#00ff00"/>
<path d="M872.7 509.04L895.9 507.78M916.5 506.67L939.7 505.49M960.3 504.52L983.5 503.5M1004.1 502.63L1027.3 501.7M1047.9 500.91L1071.1 500.05M1091.7 499.32L1114.9 498.53" fill="none" stroke="#0000ff" stroke-width="3.4" stroke-linecap="round"/>
<path d="M687.2 790.5L677.24 773.25L697.16 773.25zM687.41 715.5L677.45 698.25L697.37 698.25zM687.79 645.5L677.83 628.25L697.75 628.25zM688.18 577.5L678.22 560.25L698.14 560.25zM688.6 547.2L678.64 529.95L698.56 529.95zM690.5 538.5L680.54 521.25L700.46 521.25zM692.7 536.17L682.74 518.92L702.66 518.92zM694.9 534.98L684.94 517.73L704.86 517.73zM697.1 534.32L687.14 517.07L707.06 517.07zM699.3 533.86L689.34 516.61L709.26 516.61zM701.5 533.49L691.54 516.24L711.46 516.24zM703.7 533.15L693.74 515.9L713.66 515.9zM705.9 532.86L695.94 515.61L715.86 515.61zM708.1 532.59L698.14 515.34L718.06 515.34zM710.3 532.35L700.34 515.1L720.26 515.1zM712.5 532.11L702.54 514.86L722.46 514.86zM714.7 531.87L704.74 514.62L724.66 514.62zM716.9 531.63L706.94 514.38L726.86 514.38zM719.1 531.39L709.14 514.14L729.06 514.14zM721.3 531.14L711.34 513.89L731.26 513.89zM723.5 530.91L713.54 513.66L733.46 513.66zM725.7 530.67L715.74 513.42L735.66 513.42zM727.9 530.44L717.94 513.19L737.86 513.19zM730.1 530.22L720.14 512.97L740.06 512.97zM731 530.13L721.04 512.88L740.96 512.88zM739.76 529.31L729.8 512.06L749.72 512.06zM748.52 528.59L738.56 511.34L758.48 511.34zM757.28 527.94L747.32 510.69L767.24 510.69zM766.04 527.3L756.08 510.05L776 510.05zM774.8 526.65L764.84 509.4L784.76 509.4zM783.56 525.96L773.6 508.71L793.52 508.71zM792.32 525.27L782.36 508.02L802.28 508.02zM801.08 524.61L791.12 507.36L811.04 507.36zM809.84 524.01L799.88 506.76L819.8 506.76zM818.6 523.47L808.64 506.22L828.56 506.22zM827.36 522.96L817.4 505.71L837.32 505.71zM836.12 522.49L826.16 505.24L846.08 505.24zM844.88 522.02L834.92 504.77L854.84 504.77zM853.64 521.57L843.68 504.32L863.6 504.32zM862.4 521.1L852.44 503.85L872.36 503.85zM862.4 521.1L852.44 503.85L872.36 503.85zM884.3 519.91L874.34 502.66L894.26 502.66zM906.2 518.72L896.24 501.47L916.16 501.47zM928.1 517.57L918.14 500.32L938.06 500.32zM950 516.5L940.04 499.25L959.96 499.25zM971.9 515.5L961.94 498.25L981.86 498.25zM993.8 514.56L983.84 497.31L1003.76 497.31zM1015.7 513.66L1005.74 496.41L1025.66 496.41zM1037.6 512.8L1027.64 495.55L1047.56 495.55zM1059.5 511.97L1049.54 494.72L1069.46 494.72zM1081.4 511.18L1071.44 493.93L1091.36 493.93zM1103.3 510.42L1093.34 493.17L1113.26 493.17zM1125.2 509.7L1115.24 492.45L1135.16 492.45z" fill="#0000ff"/>
<path d="M687.22 765.7L687.3 711.2M687.35 690.6L687.57 636.5M687.67 615.9L687.97 568.7M688.21 548.1L688.34 540.3M960.4 472.29L983.6 471.61M1004.2 471.06L1027.3 470.54M1047.9 470.06L1071.1 469.54M1091.7 469.09L1114.8 468.61" fill="none" stroke="#00ffff" stroke-width="3.9" stroke-linecap="round"/>
<path d="M687.2 765.8L696.4 776L687.2 786.2L678 776zM687.31 690.7L696.51 700.9L687.31 711.1L678.11 700.9zM687.61 616L696.81 626.2L687.61 636.4L678.41 626.2zM688.03 548.2L697.23 558.4L688.03 568.6L678.83 558.4zM688.51 519.8L697.71 530L688.51 540.2L679.31 530zM689.28 500.8L698.48 511L689.28 521.2L680.08 511zM689.59 496.8L698.79 507L689.59 517.2L680.39 507zM690.1 492.8L699.3 503L690.1 513.2L680.9 503zM691 488.8L700.2 499L691 509.2L681.8 499zM691 488.8L700.2 499L691 509.2L681.8 499zM693.2 484.96L702.4 495.16L693.2 505.36L684 495.16zM695.4 483.1L704.6 493.3L695.4 503.5L686.2 493.3zM697.6 482.11L706.8 492.31L697.6 502.51L688.4 492.31zM699.8 481.1L709 491.3L699.8 501.5L690.6 491.3zM702 480.15L711.2 490.35L702 500.55L692.8 490.35zM704.2 479.37L713.4 489.57L704.2 499.77L695 489.57zM704.72 479.22L713.92 489.42L704.72 499.62L695.52 489.42zM713.48 477.18L722.68 487.38L713.48 497.58L704.28 487.38zM722.24 475.63L731.44 485.83L722.24 496.03L713.04 485.83zM731 474.47L740.2 484.67L731 494.87L721.8 484.67zM739.76 473.59L748.96 483.79L739.76 493.99L730.56 483.79zM748.52 472.87L757.72 483.07L748.52 493.27L739.32 483.07zM757.28 472.27L766.48 482.47L757.28 492.67L748.08 482.47zM766.04 471.74L775.24 481.94L766.04 492.14L756.84 481.94zM774.8 471.24L784 481.44L774.8 491.64L765.6 481.44zM783.56 470.74L792.76 480.94L783.56 491.14L774.36 480.94zM792.32 470.19L801.52 480.39L792.32 490.59L783.12 480.39zM809.84 468.91L819.04 479.11L809.84 489.31L800.64 479.11zM827.36 467.55L836.56 477.75L827.36 487.95L818.16 477.75zM844.88 466.29L854.08 476.49L844.88 486.69L835.68 476.49zM862.4 465.3L871.6 475.5L862.4 485.7L853.2 475.5zM877.3 464.67L886.5 474.87L877.3 485.07L868.1 474.87zM886 464.35L895.2 474.55L886 484.75L876.8 474.55zM897.2 463.97L906.4 474.17L897.2 484.37L888 474.17zM909.6 463.59L918.8 473.79L909.6 483.99L900.4 473.79zM915.8 463.41L925 473.61L915.8 483.81L906.6 473.61zM932.5 462.92L941.7 473.12L932.5 483.32L923.3 473.12zM950.1 462.4L959.3 472.6L950.1 482.8L940.9 472.6zM993.9 461.1L1003.1 471.3L993.9 481.5L984.7 471.3zM1037.6 460.1L1046.8 470.3L1037.6 480.5L1028.4 470.3zM1081.4 459.1L1090.6 469.3L1081.4 479.5L1072.2 469.3zM1125.1 458.2L1134.3 468.4L1125.1 478.6L1115.9 468.4z" fill="#00ffff"/>
<path d="M872.7 444.01L895.9 443.66M916.5 443.4L939.7 443.13M960.3 442.87L983.5 442.6M1004.1 442.37L1027.3 442.12M1047.9 441.88L1071.1 441.62M1091.7 441.38L1114.9 441.12" fill="none" stroke="#ff00ff" stroke-width="3.4" stroke-linecap="round"/>
<path d="M676.46 712L692.81 702.56L692.81 721.44zM676.77 638L693.12 628.56L693.12 647.44zM677.1 573.5L693.45 564.06L693.45 582.94zM677.5 519L693.85 509.56L693.85 528.44zM678.1 492L694.45 482.56L694.45 501.44zM679.7 476L696.05 466.56L696.05 485.44zM681.1 471.59L697.45 462.15L697.45 481.03zM683.3 467.67L699.65 458.23L699.65 477.11zM685.5 465L701.85 455.56L701.85 474.44zM687.7 462.11L704.05 452.67L704.05 471.55zM689.9 460.21L706.25 450.77L706.25 469.65zM692.1 458.84L708.45 449.4L708.45 468.28zM694.3 457.68L710.65 448.24L710.65 467.12zM696.5 456.61L712.85 447.17L712.85 466.05zM698.7 455.61L715.05 446.17L715.05 465.05zM700.9 454.72L717.25 445.28L717.25 464.16zM703.1 453.96L719.45 444.52L719.45 463.4zM705.3 453.31L721.65 443.87L721.65 462.75zM707.5 452.72L723.85 443.28L723.85 462.16zM709.7 452.17L726.05 442.73L726.05 461.61zM711.9 451.67L728.25 442.23L728.25 461.11zM714.1 451.21L730.45 441.77L730.45 460.65zM716.3 450.8L732.65 441.36L732.65 460.24zM718.5 450.44L734.85 441L734.85 459.88zM720.1 450.19L736.45 440.75L736.45 459.63zM728.86 449.08L745.21 439.64L745.21 458.52zM737.62 448.33L753.97 438.89L753.97 457.77zM746.38 447.75L762.73 438.31L762.73 457.19zM755.14 447.26L771.49 437.83L771.49 456.7zM763.9 446.83L780.25 437.39L780.25 456.27zM772.66 446.43L789.01 436.99L789.01 455.87zM781.42 446.07L797.77 436.63L797.77 455.51zM790.18 445.76L806.53 436.32L806.53 455.2zM798.94 445.52L815.29 436.08L815.29 454.96zM807.7 445.32L824.05 435.88L824.05 454.76zM816.46 445.13L832.81 435.69L832.81 454.57zM825.22 444.91L841.57 435.47L841.57 454.35zM833.98 444.66L850.33 435.22L850.33 454.1zM842.74 444.41L859.09 434.97L859.09 453.85zM851.5 444.2L867.85 434.76L867.85 453.64zM851.5 444.2L867.85 434.76L867.85 453.64zM873.4 443.83L889.75 434.39L889.75 453.27zM895.3 443.53L911.65 434.09L911.65 452.97zM917.2 443.26L933.55 433.82L933.55 452.7zM939.1 443L955.45 433.56L955.45 452.44zM961 442.74L977.35 433.3L977.35 452.18zM982.9 442.49L999.25 433.05L999.25 451.93zM1004.8 442.25L1021.15 432.81L1021.15 451.69zM1026.7 442L1043.05 432.56L1043.05 451.44zM1048.6 441.75L1064.95 432.31L1064.95 451.19zM1070.5 441.5L1086.85 432.06L1086.85 450.94zM1092.4 441.25L1108.75 431.81L1108.75 450.69zM1114.3 441L1130.65 431.56L1130.65 450.44z" fill="#ff00ff"/>
<path d="M687.2 781.2L687.5 716.7M687.5 716.7L687.8 643.2M687.8 643.2L688.4 575.3M688.4 575.3L689.3 517.6M689.3 517.6L690.1 483.7M872.7 425.12L895.9 424.94M916.5 424.8L939.7 424.65M960.3 424.54L983.5 424.43M1004.1 424.34L1027.3 424.26M1047.9 424.2L1071.1 424.15M1091.7 424.12L1114.9 424.1" fill="none" stroke="#808000" stroke-width="3.8" stroke-linecap="round"/>
<path d="M687.5 707.9L695.12 712.3L695.12 721.1L687.5 725.5L679.88 721.1L679.88 712.3zM687.8 634.4L695.42 638.8L695.42 647.6L687.8 652L680.18 647.6L680.18 638.8zM688.4 566.5L696.02 570.9L696.02 579.7L688.4 584.1L680.78 579.7L680.78 570.9zM689.3 508.8L696.92 513.2L696.92 522L689.3 526.4L681.68 522L681.68 513.2zM690.1 474.9L697.72 479.3L697.72 488.1L690.1 492.5L682.48 488.1L682.48 479.3zM690.85 472.2L698.47 476.6L698.47 485.4L690.85 489.8L683.23 485.4L683.23 476.6zM692.14 469.2L699.76 473.6L699.76 482.4L692.14 486.8L684.52 482.4L684.52 473.6zM692.72 466.2L700.34 470.6L700.34 479.4L692.72 483.8L685.1 479.4L685.1 470.6zM693.07 463.2L700.69 467.6L700.69 476.4L693.07 480.8L685.45 476.4L685.45 467.6zM693.38 460.2L701 464.6L701 473.4L693.38 477.8L685.76 473.4L685.76 464.6zM693.7 457.2L701.32 461.6L701.32 470.4L693.7 474.8L686.08 470.4L686.08 461.6zM693.98 454.2L701.6 458.6L701.6 467.4L693.98 471.8L686.36 467.4L686.36 458.6zM694.31 451.2L701.93 455.6L701.93 464.4L694.31 468.8L686.69 464.4L686.69 455.6zM694.79 448.2L702.41 452.6L702.41 461.4L694.79 465.8L687.17 461.4L687.17 452.6zM695.57 445.2L703.19 449.6L703.19 458.4L695.57 462.8L687.95 458.4L687.95 449.6zM696.64 442.2L704.26 446.6L704.26 455.4L696.64 459.8L689.02 455.4L689.02 446.6zM697.5 440.2L705.12 444.6L705.12 453.4L697.5 457.8L689.88 453.4L689.88 444.6zM699.7 436.65L707.32 441.05L707.32 449.85L699.7 454.25L692.08 449.85L692.08 441.05zM701.9 434.36L709.52 438.76L709.52 447.56L701.9 451.96L694.28 447.56L694.28 438.76zM704.1 432.68L711.72 437.08L711.72 445.88L704.1 450.28L696.48 445.88L696.48 437.08zM706.3 431.22L713.92 435.62L713.92 444.42L706.3 448.82L698.68 444.42L698.68 435.62zM708.5 429.95L716.12 434.35L716.12 443.15L708.5 447.55L700.88 443.15L700.88 434.35zM710.7 428.88L718.32 433.28L718.32 442.08L710.7 446.48L703.08 442.08L703.08 433.28zM712.9 428.01L720.52 432.41L720.52 441.21L712.9 445.61L705.28 441.21L705.28 432.41zM715.1 427.2L722.72 431.6L722.72 440.4L715.1 444.8L707.48 440.4L707.48 431.6zM717.3 426.36L724.92 430.76L724.92 439.56L717.3 443.96L709.68 439.56L709.68 430.76zM719.5 425.54L727.12 429.94L727.12 438.74L719.5 443.14L711.88 438.74L711.88 429.94zM721.7 424.79L729.32 429.19L729.32 437.99L721.7 442.39L714.08 437.99L714.08 429.19zM723.9 424.15L731.52 428.55L731.52 437.35L723.9 441.75L716.28 437.35L716.28 428.55zM726.1 423.58L733.72 427.98L733.72 436.78L726.1 441.18L718.48 436.78L718.48 427.98zM728.3 423.04L735.92 427.44L735.92 436.24L728.3 440.64L720.68 436.24L720.68 427.44zM730.5 422.56L738.12 426.96L738.12 435.76L730.5 440.16L722.88 435.76L722.88 426.96zM731 422.46L738.62 426.86L738.62 435.66L731 440.06L723.38 435.66L723.38 426.86zM739.76 421.13L747.38 425.53L747.38 434.33L739.76 438.73L732.14 434.33L732.14 425.53zM748.52 420.16L756.14 424.56L756.14 433.36L748.52 437.76L740.9 433.36L740.9 424.56zM757.28 419.47L764.9 423.87L764.9 432.67L757.28 437.07L749.66 432.67L749.66 423.87zM766.04 419L773.66 423.4L773.66 432.2L766.04 436.6L758.42 432.2L758.42 423.4zM774.8 418.62L782.42 423.02L782.42 431.82L774.8 436.22L767.18 431.82L767.18 423.02zM783.56 418.3L791.18 422.7L791.18 431.5L783.56 435.9L775.94 431.5L775.94 422.7zM792.32 418.02L799.94 422.42L799.94 431.22L792.32 435.62L784.7 431.22L784.7 422.42zM801.08 417.77L808.7 422.17L808.7 430.97L801.08 435.37L793.46 430.97L793.46 422.17zM809.84 417.52L817.46 421.92L817.46 430.72L809.84 435.12L802.22 430.72L802.22 421.92zM818.6 417.27L826.22 421.67L826.22 430.47L818.6 434.87L810.98 430.47L810.98 421.67zM827.36 417.03L834.98 421.43L834.98 430.23L827.36 434.63L819.74 430.23L819.74 421.43zM836.12 416.82L843.74 421.22L843.74 430.02L836.12 434.42L828.5 430.02L828.5 421.22zM844.88 416.64L852.5 421.04L852.5 429.84L844.88 434.24L837.26 429.84L837.26 421.04zM853.64 416.5L861.26 420.9L861.26 429.7L853.64 434.1L846.02 429.7L846.02 420.9zM862.4 416.4L870.02 420.8L870.02 429.6L862.4 434L854.78 429.6L854.78 420.8zM862.4 416.4L870.02 420.8L870.02 429.6L862.4 434L854.78 429.6L854.78 420.8zM884.3 416.23L891.92 420.63L891.92 429.43L884.3 433.83L876.68 429.43L876.68 420.63zM906.2 416.07L913.82 420.47L913.82 429.27L906.2 433.67L898.58 429.27L898.58 420.47zM928.1 415.92L935.72 420.32L935.72 429.12L928.1 433.52L920.48 429.12L920.48 420.32zM950 415.79L957.62 420.19L957.62 428.99L950 433.39L942.38 428.99L942.38 420.19zM971.9 415.68L979.52 420.08L979.52 428.88L971.9 433.28L964.28 428.88L964.28 420.08zM993.8 415.58L1001.42 419.98L1001.42 428.78L993.8 433.18L986.18 428.78L986.18 419.98zM1015.7 415.5L1023.32 419.9L1023.32 428.7L1015.7 433.1L1008.08 428.7L1008.08 419.9zM1037.6 415.43L1045.22 419.83L1045.22 428.63L1037.6 433.03L1029.98 428.63L1029.98 419.83zM1059.5 415.37L1067.12 419.77L1067.12 428.57L1059.5 432.97L1051.88 428.57L1051.88 419.77zM1081.4 415.33L1089.02 419.73L1089.02 428.53L1081.4 432.93L1073.78 428.53L1073.78 419.73zM1103.3 415.31L1110.92 419.71L1110.92 428.51L1103.3 432.91L1095.68 428.51L1095.68 419.71zM1125.2 415.3L1132.82 419.7L1132.82 428.5L1125.2 432.9L1117.58 428.5L1117.58 419.7z" fill="#808000"/>
</g>
<rect x="108.6" y="0.7" width="545.6" height="389.7" fill="none" stroke="#000" stroke-width="1.35"/>
<rect x="678.4" y="2.1" width="559.6" height="389.7" fill="none" stroke="#000" stroke-width="1.35"/>
<rect x="108.6" y="390.4" width="545.6" height="389.7" fill="none" stroke="#000" stroke-width="1.35"/>
<rect x="678.4" y="391.8" width="559.6" height="389.4" fill="none" stroke="#000" stroke-width="1.35"/>
<path d="M117.2 390.4l0 6.6M159.78 390.4l0 3.6M202.35 390.4l0 6.6M244.93 390.4l0 3.6M287.5 390.4l0 6.6M330.07 390.4l0 3.6M372.65 390.4l0 6.6M415.23 390.4l0 3.6M457.8 390.4l0 6.6M500.38 390.4l0 3.6M542.95 390.4l0 6.6M585.53 390.4l0 3.6M628.1 390.4l0 6.6M678.9 391.8l0 6.6M723.25 391.8l0 3.6M767.6 391.8l0 6.6M811.95 391.8l0 3.6M856.3 391.8l0 6.6M900.65 391.8l0 3.6M945 391.8l0 6.6M989.35 391.8l0 3.6M1033.7 391.8l0 6.6M1078.05 391.8l0 3.6M1122.4 391.8l0 6.6M1166.75 391.8l0 3.6M1211.1 391.8l0 6.6M108.4 780.1l0 6.6M151.75 780.1l0 3.6M195.1 780.1l0 6.6M238.45 780.1l0 3.6M281.8 780.1l0 6.6M325.15 780.1l0 3.6M368.5 780.1l0 6.6M411.85 780.1l0 3.6M455.2 780.1l0 6.6M498.55 780.1l0 3.6M541.9 780.1l0 6.6M585.25 780.1l0 3.6M628.6 780.1l0 6.6M686.7 781.2l0 6.6M730.45 781.2l0 3.6M774.2 781.2l0 6.6M817.95 781.2l0 3.6M861.7 781.2l0 6.6M905.45 781.2l0 3.6M949.2 781.2l0 6.6M992.95 781.2l0 3.6M1036.7 781.2l0 6.6M1080.45 781.2l0 3.6M1124.2 781.2l0 6.6M1167.95 781.2l0 3.6M1211.7 781.2l0 6.6M108.6 390.3l-6.6 0M108.6 268.3l-3.6 0M108.6 146.3l-6.6 0M108.6 24.3l-3.6 0M108.6 780l-6.6 0M1238 391.8l6.6 0M1238 781.2l6.6 0M108.6 736l-3.6 0M1238 345.73l3.6 0M1238 737.2l3.6 0M108.6 692l-6.6 0M1238 299.66l6.6 0M1238 693.2l6.6 0M108.6 648l-3.6 0M1238 253.59l3.6 0M1238 649.2l3.6 0M108.6 604l-6.6 0M1238 207.52l6.6 0M1238 605.2l6.6 0M108.6 560l-3.6 0M1238 161.45l3.6 0M1238 561.2l3.6 0M108.6 516l-6.6 0M1238 115.38l6.6 0M1238 517.2l6.6 0M108.6 472l-3.6 0M1238 69.31l3.6 0M1238 473.2l3.6 0M108.6 428l-6.6 0M1238 23.24l6.6 0M1238 429.2l6.6 0" fill="none" stroke="#000" stroke-width="1.4"/>
<text x="98.3" y="401.9" font-size="37" text-anchor="end">0</text>
<text x="98.3" y="157.9" font-size="37" text-anchor="end">5</text>
<text x="98.3" y="791.2" font-size="37" text-anchor="end">0</text>
<text x="1248" y="402.8" font-size="37" text-anchor="start">0</text>
<text x="1248" y="792.2" font-size="37" text-anchor="start">0</text>
<text x="98.3" y="703.2" font-size="37" text-anchor="end">2</text>
<text x="1248" y="310.66" font-size="37" text-anchor="start">2</text>
<text x="1248" y="704.2" font-size="37" text-anchor="start">2</text>
<text x="98.3" y="615.2" font-size="37" text-anchor="end">4</text>
<text x="1248" y="218.52" font-size="37" text-anchor="start">4</text>
<text x="1248" y="616.2" font-size="37" text-anchor="start">4</text>
<text x="98.3" y="527.2" font-size="37" text-anchor="end">6</text>
<text x="1248" y="126.38" font-size="37" text-anchor="start">6</text>
<text x="1248" y="528.2" font-size="37" text-anchor="start">6</text>
<text x="98.3" y="439.2" font-size="37" text-anchor="end">8</text>
<text x="1248" y="34.24" font-size="37" text-anchor="start">8</text>
<text x="1248" y="440.2" font-size="37" text-anchor="start">8</text>
<text transform="translate(108.4 814.2) scale(1.000 1.035)" font-size="29.3" text-anchor="middle">0</text>
<text transform="translate(686.7 815.2) scale(1.000 1.035)" font-size="29.3" text-anchor="middle">0</text>
<text transform="translate(195.1 814.2) scale(1.000 1.035)" font-size="29.3" text-anchor="middle">1</text>
<text transform="translate(774.2 815.2) scale(1.000 1.035)" font-size="29.3" text-anchor="middle">1</text>
<text transform="translate(281.8 814.2) scale(1.000 1.035)" font-size="29.3" text-anchor="middle">2</text>
<text transform="translate(861.7 815.2) scale(1.000 1.035)" font-size="29.3" text-anchor="middle">2</text>
<text transform="translate(368.5 814.2) scale(1.000 1.035)" font-size="29.3" text-anchor="middle">3</text>
<text transform="translate(949.2 815.2) scale(1.000 1.035)" font-size="29.3" text-anchor="middle">3</text>
<text transform="translate(455.2 814.2) scale(1.000 1.035)" font-size="29.3" text-anchor="middle">4</text>
<text transform="translate(1036.7 815.2) scale(1.000 1.035)" font-size="29.3" text-anchor="middle">4</text>
<text transform="translate(541.9 814.2) scale(1.000 1.035)" font-size="29.3" text-anchor="middle">5</text>
<text transform="translate(1124.2 815.2) scale(1.000 1.035)" font-size="29.3" text-anchor="middle">5</text>
<text transform="translate(628.6 814.2) scale(1.000 1.035)" font-size="29.3" text-anchor="middle">6</text>
<text transform="translate(1211.7 815.2) scale(1.000 1.035)" font-size="29.3" text-anchor="middle">6</text>
<text x="121" y="40.4" font-size="36.5" text-anchor="start">(a)</text>
<text x="696.2" y="48.7" font-size="36.5" text-anchor="start">(b)</text>
<text x="116.3" y="434.5" font-size="36.5" text-anchor="start">(c)</text>
<text x="683.8" y="426.6" font-size="36.5" text-anchor="start">(d)</text>
<text x="563.9" y="78.5" font-size="33.3" text-anchor="start">120 K</text>
<text x="561.9" y="117" font-size="33.3" text-anchor="start">150 K</text>
<text x="562.6" y="150" font-size="33.3" text-anchor="start">200 K</text>
<text x="566" y="190" font-size="33.3" text-anchor="start">250 K</text>
<text x="561.7" y="307.8" font-size="33.3" text-anchor="start">300 K</text>
<text x="561.7" y="360" font-size="33.3" text-anchor="start">370 K</text>
<text x="1142" y="98.1" font-size="33.3" text-anchor="start">150 K</text>
<text x="1142.3" y="135.4" font-size="33.3" text-anchor="start">200 K</text>
<text x="1142.3" y="173.8" font-size="33.3" text-anchor="start">250 K</text>
<text x="1145.5" y="229.4" font-size="33.3" text-anchor="start">300 K</text>
<text x="561.6" y="454.8" font-size="33.3" text-anchor="start">10 K</text>
<text x="561" y="488.3" font-size="33.3" text-anchor="start">100 K</text>
<text x="561" y="521.2" font-size="33.3" text-anchor="start">150 K</text>
<text x="560" y="549.2" font-size="33.3" text-anchor="start">200 K</text>
<text x="557.1" y="586.8" font-size="33.3" text-anchor="start">250 K</text>
<text x="562.3" y="625.8" font-size="33.3" text-anchor="start">300 K</text>
<text x="557.8" y="703" font-size="33.3" text-anchor="start">370 K</text>
<text x="1135" y="429.4" font-size="33.3" text-anchor="start">10 K</text>
<text x="1135.9" y="459" font-size="33.3" text-anchor="start">100 K</text>
<text x="1139.4" y="487.4" font-size="33.3" text-anchor="start">150 K</text>
<text x="1135.9" y="516.6" font-size="33.3" text-anchor="start">200 K</text>
<text x="1137.6" y="553.2" font-size="33.3" text-anchor="start">250 K</text>
<text x="1137.6" y="592.9" font-size="33.3" text-anchor="start">300 K</text>
<text x="1137.6" y="694.7" font-size="33.3" text-anchor="start">370 K</text>
<text transform="translate(309.5 256.2) scale(1 1.045)" font-size="41.6" font-weight="bold" font-style="italic">B<tspan font-size="24.4" dy="14.3">c-axis</tspan></text>
<text transform="translate(942 311) scale(1 1.045)" font-size="41.6" font-weight="bold" font-style="italic">B<tspan font-size="24.4" dy="14.3">ab-plane</tspan></text>
<text transform="translate(328.6 682.4) scale(1 1.045)" font-size="41.6" font-weight="bold" font-style="italic">B<tspan font-size="24.4" dy="14.3">c-axis</tspan></text>
<text transform="translate(882 665.9) scale(1 1.045)" font-size="41.6" font-weight="bold" font-style="italic">B<tspan font-size="24.4" dy="14.3">ab-plane</tspan></text>
<text transform="translate(381.6 874.4) scale(1.000 1.045)" font-size="41.6" text-anchor="middle" font-weight="bold" font-style="italic">B (T)</text>
<text transform="translate(960 874.4) scale(1.000 1.045)" font-size="41.6" text-anchor="middle" font-weight="bold" font-style="italic">B (T)</text>
<g transform="translate(39.5 336.8) rotate(-90)" font-size="41.6">
<text transform="scale(1 1.06)" font-weight="bold" font-style="italic" x="-1" y="0">M</text>
<text font-weight="bold" x="45.2" y="0">(</text>
<text transform="scale(1 1.06)" font-weight="bold" font-style="italic"><tspan x="63.7" y="0">1</tspan><tspan x="84.1" y="0">0</tspan></text>
<text transform="scale(1 1.06)" font-weight="bold" font-style="italic" font-size="22.6" x="108.3" y="-20.47">5</text>
<text font-family="'Liberation Serif','Times New Roman',serif" font-style="italic" font-size="43.6"><tspan x="123.8" y="0">A</tspan><tspan x="154.6" y="0.6" font-size="46">/</tspan></text>
<text transform="scale(1 1.06)" font-weight="bold" font-style="italic" x="164.9" y="0">m</text>
<text font-weight="bold" x="203.2" y="0">)</text>
</g>
<g transform="translate(39.5 716.8) rotate(-90)" font-size="41.6">
<text transform="scale(1 1.06)" font-weight="bold" font-style="italic" x="-1" y="0">M</text>
<text font-weight="bold" x="45.2" y="0">(</text>
<text transform="scale(1 1.06)" font-weight="bold" font-style="italic"><tspan x="63.7" y="0">1</tspan><tspan x="84.1" y="0">0</tspan></text>
<text transform="scale(1 1.06)" font-weight="bold" font-style="italic" font-size="22.6" x="108.3" y="-20.47">5</text>
<text font-family="'Liberation Serif','Times New Roman',serif" font-style="italic" font-size="43.6"><tspan x="123.8" y="0">A</tspan><tspan x="154.6" y="0.6" font-size="46">/</tspan></text>
<text transform="scale(1 1.06)" font-weight="bold" font-style="italic" x="164.9" y="0">m</text>
<text font-weight="bold" x="203.2" y="0">)</text>
</g>
<g transform="translate(1341.4 280.1) rotate(-90)" font-size="41.6">
<text transform="scale(1 1.06)" font-weight="bold" font-style="italic" x="-1" y="0">M</text>
<text font-weight="bold" x="45.2" y="0">(</text>
<text transform="scale(1 1.06)" font-weight="bold" font-style="italic"><tspan x="63.7" y="0">1</tspan><tspan x="84.1" y="0">0</tspan></text>
<text transform="scale(1 1.06)" font-weight="bold" font-style="italic" font-size="22.6" x="108.3" y="-20.47">5</text>
<text font-family="'Liberation Serif','Times New Roman',serif" font-style="italic" font-size="43.6"><tspan x="123.8" y="0">A</tspan><tspan x="154.6" y="0.6" font-size="46">/</tspan></text>
<text transform="scale(1 1.06)" font-weight="bold" font-style="italic" x="164.9" y="0">m</text>
<text font-weight="bold" x="203.2" y="0">)</text>
</g>
<g transform="translate(1338.4 702.2) rotate(-90)" font-size="41.6">
<text transform="scale(1 1.06)" font-weight="bold" font-style="italic" x="-1" y="0">M</text>
<text font-weight="bold" x="45.2" y="0">(</text>
<text transform="scale(1 1.06)" font-weight="bold" font-style="italic"><tspan x="63.7" y="0">1</tspan><tspan x="84.1" y="0">0</tspan></text>
<text transform="scale(1 1.06)" font-weight="bold" font-style="italic" font-size="22.6" x="108.3" y="-20.47">5</text>
<text font-family="'Liberation Serif','Times New Roman',serif" font-style="italic" font-size="43.6"><tspan x="123.8" y="0">A</tspan><tspan x="154.6" y="0.6" font-size="46">/</tspan></text>
<text transform="scale(1 1.06)" font-weight="bold" font-style="italic" x="164.9" y="0">m</text>
<text font-weight="bold" x="203.2" y="0">)</text>
</g>
</svg>
</body></html>
